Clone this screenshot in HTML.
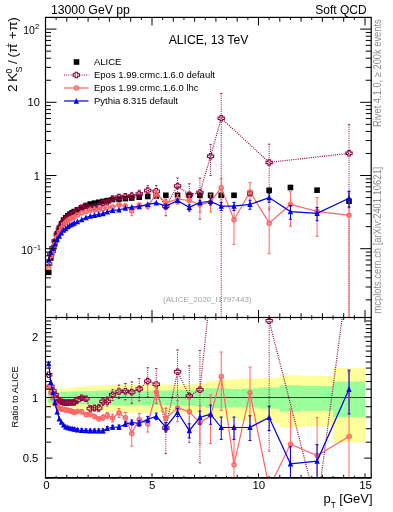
<!DOCTYPE html><html><head><meta charset="utf-8"><style>html,body{margin:0;padding:0;background:#fff;}svg{display:block;will-change:transform;}text{font-family:"Liberation Sans",sans-serif;}</style></head><body>
<svg width="393" height="512" viewBox="0 0 393 512">
<defs><clipPath id="cm"><rect x="45.5" y="17.4" width="325.7" height="300.1"/></clipPath>
<clipPath id="cr"><rect x="45.5" y="317.5" width="325.7" height="160.3"/></clipPath></defs>
<g clip-path="url(#cr)">
<polygon fill="#ffff99" points="47.63,389.17 49.76,389.17 49.76,389.07 51.89,389.07 51.89,388.98 54.02,388.98 54.02,388.89 56.15,388.89 56.15,388.79 58.28,388.79 58.28,388.70 60.41,388.70 60.41,388.61 62.54,388.61 62.54,388.52 64.67,388.52 64.67,388.42 66.80,388.42 66.80,388.26 68.93,388.26 68.93,388.02 71.06,388.02 71.06,387.79 73.19,387.79 73.19,387.55 75.32,387.55 75.32,387.20 79.58,387.20 79.58,386.74 83.84,386.74 83.84,386.28 88.10,386.28 88.10,385.96 92.36,385.96 92.36,385.78 96.62,385.78 96.62,385.61 100.88,385.61 100.88,385.43 105.14,385.43 105.14,385.26 109.40,385.26 109.40,385.04 115.79,385.04 115.79,384.78 122.18,384.78 122.18,384.52 128.57,384.52 128.57,384.52 134.96,384.52 134.96,384.52 143.48,384.52 143.48,384.52 152.00,384.52 152.00,384.52 160.52,384.52 160.52,384.52 171.17,384.52 171.17,384.52 183.95,384.52 183.95,384.52 194.60,384.52 194.60,383.40 205.25,383.40 205.25,381.20 215.90,381.20 215.90,379.89 226.55,379.89 226.55,379.36 241.46,379.36 241.46,378.69 258.50,378.69 258.50,377.99 279.80,377.99 279.80,375.24 301.10,375.24 301.10,375.92 333.05,375.92 333.05,368.08 365.00,368.08 365.00,442.16 333.05,442.16 333.05,426.22 301.10,426.22 301.10,427.44 279.80,427.44 279.80,422.65 258.50,422.65 258.50,421.49 241.46,421.49 241.46,420.42 226.55,420.42 226.55,419.57 215.90,419.57 215.90,417.56 205.25,417.56 205.25,414.32 194.60,414.32 194.60,412.74 183.95,412.74 183.95,412.74 171.17,412.74 171.17,412.74 160.52,412.74 160.52,412.74 152.00,412.74 152.00,412.74 143.48,412.74 143.48,412.74 134.96,412.74 134.96,412.74 128.57,412.74 128.57,412.74 122.18,412.74 122.18,412.39 115.79,412.39 115.79,412.03 109.40,412.03 109.40,411.74 105.14,411.74 105.14,411.50 100.88,411.50 100.88,411.27 96.62,411.27 96.62,411.03 92.36,411.03 92.36,410.80 88.10,410.80 88.10,410.38 83.84,410.38 83.84,409.78 79.58,409.78 79.58,409.17 75.32,409.17 75.32,408.73 73.19,408.73 73.19,408.43 71.06,408.43 71.06,408.13 68.93,408.13 68.93,407.84 66.80,407.84 66.80,407.63 64.67,407.63 64.67,407.51 62.54,407.51 62.54,407.40 60.41,407.40 60.41,407.28 58.28,407.28 58.28,407.17 56.15,407.17 56.15,407.05 54.02,407.05 54.02,406.94 51.89,406.94 51.89,406.83 49.76,406.83 49.76,406.71 47.63,406.71"/>
<polygon fill="#99ff99" points="47.63,392.41 49.76,392.41 49.76,392.31 51.89,392.31 51.89,392.21 54.02,392.21 54.02,392.12 56.15,392.12 56.15,392.02 58.28,392.02 58.28,391.92 60.41,391.92 60.41,391.83 62.54,391.83 62.54,391.73 64.67,391.73 64.67,391.63 66.80,391.63 66.80,391.56 68.93,391.56 68.93,391.50 71.06,391.50 71.06,391.44 73.19,391.44 73.19,391.38 75.32,391.38 75.32,391.29 79.58,391.29 79.58,391.17 83.84,391.17 83.84,391.05 88.10,391.05 88.10,390.93 92.36,390.93 92.36,390.82 96.62,390.82 96.62,390.70 100.88,390.70 100.88,390.58 105.14,390.58 105.14,390.46 109.40,390.46 109.40,390.32 115.79,390.32 115.79,390.14 122.18,390.14 122.18,389.97 128.57,389.97 128.57,390.16 134.96,390.16 134.96,390.38 143.48,390.38 143.48,390.64 152.00,390.64 152.00,390.69 160.52,390.69 160.52,390.51 171.17,390.51 171.17,390.29 183.95,390.29 183.95,390.07 194.60,390.07 194.60,389.37 205.25,389.37 205.25,388.18 215.90,388.18 215.90,387.98 226.55,387.98 226.55,388.93 241.46,388.93 241.46,388.53 258.50,388.53 258.50,387.59 279.80,387.59 279.80,385.28 301.10,385.28 301.10,386.05 333.05,386.05 333.05,381.56 365.00,381.56 365.00,417.01 333.05,417.01 333.05,410.69 301.10,410.69 301.10,411.71 279.80,411.71 279.80,408.68 258.50,408.68 258.50,407.49 241.46,407.49 241.46,407.00 226.55,407.00 226.55,408.18 215.90,408.18 215.90,407.93 205.25,407.93 205.25,406.47 194.60,406.47 194.60,405.62 183.95,405.62 183.95,405.36 171.17,405.36 171.17,405.10 160.52,405.10 160.52,404.88 152.00,404.88 152.00,404.94 143.48,404.94 143.48,405.25 134.96,405.25 134.96,405.51 128.57,405.51 128.57,405.74 122.18,405.74 122.18,405.54 115.79,405.54 115.79,405.33 109.40,405.33 109.40,405.15 105.14,405.15 105.14,405.01 100.88,405.01 100.88,404.88 96.62,404.88 96.62,404.74 92.36,404.74 92.36,404.60 88.10,404.60 88.10,404.46 83.84,404.46 83.84,404.32 79.58,404.32 79.58,404.19 75.32,404.19 75.32,404.08 73.19,404.08 73.19,404.02 71.06,404.02 71.06,403.95 68.93,403.95 68.93,403.88 66.80,403.88 66.80,403.79 64.67,403.79 64.67,403.68 62.54,403.68 62.54,403.57 60.41,403.57 60.41,403.46 58.28,403.46 58.28,403.35 56.15,403.35 56.15,403.24 54.02,403.24 54.02,403.13 51.89,403.13 51.89,403.02 49.76,403.02 49.76,402.91 47.63,402.91"/>
<line x1="45.5" y1="397.5" x2="371.2" y2="397.5" stroke="#000" stroke-width="1" stroke-opacity="0.7"/>
</g>
<g clip-path="url(#cr)">
<polyline fill="none" stroke="#900040" stroke-width="1.2" stroke-dasharray="1 1.2" points="48.70,374.70 50.83,386.40 52.95,391.00 55.09,394.84 57.22,398.68 59.34,400.95 61.48,401.65 63.61,402.35 65.73,402.67 67.87,402.60 70.00,402.53 72.12,402.47 74.25,402.40 77.45,400.00 81.71,397.80 85.97,398.80 90.23,408.50 94.49,408.00 98.75,408.00 103.01,401.40 107.27,401.40 112.59,394.80 118.98,391.50 125.38,391.30 131.76,392.00 139.22,388.90 147.74,381.10 156.26,384.20 165.85,428.00 177.56,371.70 189.28,395.90 199.93,389.70 210.58,290.25 221.22,185.75 269.15,320.77 317.07,508.00 349.03,265.78"/>
<polygon fill="#fff" fill-opacity="0" stroke="#900040" stroke-width="1.05" points="47.49,371.95 49.90,371.95 49.90,373.50 51.84,373.50 51.84,375.90 49.90,375.90 49.90,377.45 47.49,377.45 47.49,375.90 45.55,375.90 45.55,373.50 47.49,373.50"/>
<line x1="50.83" y1="384.87" x2="50.83" y2="387.95" stroke="#900040" stroke-width="1" stroke-dasharray="1 1.2"/>
<line x1="49.62" y1="384.87" x2="52.03" y2="384.87" stroke="#900040" stroke-width="0.8"/>
<line x1="49.62" y1="387.95" x2="52.03" y2="387.95" stroke="#900040" stroke-width="0.8"/>
<polygon fill="#fff" fill-opacity="0" stroke="#900040" stroke-width="1.05" points="49.62,383.65 52.03,383.65 52.03,385.20 53.98,385.20 53.98,387.60 52.03,387.60 52.03,389.15 49.62,389.15 49.62,387.60 47.68,387.60 47.68,385.20 49.62,385.20"/>
<line x1="52.95" y1="389.39" x2="52.95" y2="392.64" stroke="#900040" stroke-width="1" stroke-dasharray="1 1.2"/>
<line x1="51.75" y1="389.39" x2="54.16" y2="389.39" stroke="#900040" stroke-width="0.8"/>
<line x1="51.75" y1="392.64" x2="54.16" y2="392.64" stroke="#900040" stroke-width="0.8"/>
<polygon fill="#fff" fill-opacity="0" stroke="#900040" stroke-width="1.05" points="51.75,388.25 54.16,388.25 54.16,389.80 56.10,389.80 56.10,392.20 54.16,392.20 54.16,393.75 51.75,393.75 51.75,392.20 49.80,392.20 49.80,389.80 51.75,389.80"/>
<line x1="55.09" y1="393.16" x2="55.09" y2="396.55" stroke="#900040" stroke-width="1" stroke-dasharray="1 1.2"/>
<line x1="53.88" y1="393.16" x2="56.29" y2="393.16" stroke="#900040" stroke-width="0.8"/>
<line x1="53.88" y1="396.55" x2="56.29" y2="396.55" stroke="#900040" stroke-width="0.8"/>
<polygon fill="#fff" fill-opacity="0" stroke="#900040" stroke-width="1.05" points="53.88,392.09 56.29,392.09 56.29,393.64 58.23,393.64 58.23,396.04 56.29,396.04 56.29,397.59 53.88,397.59 53.88,396.04 51.94,396.04 51.94,393.64 53.88,393.64"/>
<line x1="57.22" y1="396.93" x2="57.22" y2="400.47" stroke="#900040" stroke-width="1" stroke-dasharray="1 1.2"/>
<line x1="56.02" y1="396.93" x2="58.42" y2="396.93" stroke="#900040" stroke-width="0.8"/>
<line x1="56.02" y1="400.47" x2="58.42" y2="400.47" stroke="#900040" stroke-width="0.8"/>
<polygon fill="#fff" fill-opacity="0" stroke="#900040" stroke-width="1.05" points="56.02,395.93 58.42,395.93 58.42,397.48 60.37,397.48 60.37,399.88 58.42,399.88 58.42,401.43 56.02,401.43 56.02,399.88 54.07,399.88 54.07,397.48 56.02,397.48"/>
<line x1="59.34" y1="399.15" x2="59.34" y2="402.79" stroke="#900040" stroke-width="1" stroke-dasharray="1 1.2"/>
<line x1="58.14" y1="399.15" x2="60.55" y2="399.15" stroke="#900040" stroke-width="0.8"/>
<line x1="58.14" y1="402.79" x2="60.55" y2="402.79" stroke="#900040" stroke-width="0.8"/>
<polygon fill="#fff" fill-opacity="0" stroke="#900040" stroke-width="1.05" points="58.14,398.20 60.55,398.20 60.55,399.75 62.49,399.75 62.49,402.15 60.55,402.15 60.55,403.70 58.14,403.70 58.14,402.15 56.20,402.15 56.20,399.75 58.14,399.75"/>
<line x1="61.48" y1="399.84" x2="61.48" y2="403.50" stroke="#900040" stroke-width="1" stroke-dasharray="1 1.2"/>
<line x1="60.27" y1="399.84" x2="62.68" y2="399.84" stroke="#900040" stroke-width="0.8"/>
<line x1="60.27" y1="403.50" x2="62.68" y2="403.50" stroke="#900040" stroke-width="0.8"/>
<polygon fill="#fff" fill-opacity="0" stroke="#900040" stroke-width="1.05" points="60.27,398.90 62.68,398.90 62.68,400.45 64.62,400.45 64.62,402.85 62.68,402.85 62.68,404.40 60.27,404.40 60.27,402.85 58.33,402.85 58.33,400.45 60.27,400.45"/>
<line x1="63.61" y1="400.52" x2="63.61" y2="404.22" stroke="#900040" stroke-width="1" stroke-dasharray="1 1.2"/>
<line x1="62.41" y1="400.52" x2="64.81" y2="400.52" stroke="#900040" stroke-width="0.8"/>
<line x1="62.41" y1="404.22" x2="64.81" y2="404.22" stroke="#900040" stroke-width="0.8"/>
<polygon fill="#fff" fill-opacity="0" stroke="#900040" stroke-width="1.05" points="62.41,399.60 64.81,399.60 64.81,401.15 66.76,401.15 66.76,403.55 64.81,403.55 64.81,405.10 62.41,405.10 62.41,403.55 60.46,403.55 60.46,401.15 62.41,401.15"/>
<line x1="65.73" y1="400.83" x2="65.73" y2="404.54" stroke="#900040" stroke-width="1" stroke-dasharray="1 1.2"/>
<line x1="64.53" y1="400.83" x2="66.94" y2="400.83" stroke="#900040" stroke-width="0.8"/>
<line x1="64.53" y1="404.54" x2="66.94" y2="404.54" stroke="#900040" stroke-width="0.8"/>
<polygon fill="#fff" fill-opacity="0" stroke="#900040" stroke-width="1.05" points="64.53,399.92 66.94,399.92 66.94,401.47 68.89,401.47 68.89,403.87 66.94,403.87 66.94,405.42 64.53,405.42 64.53,403.87 62.59,403.87 62.59,401.47 64.53,401.47"/>
<line x1="67.87" y1="400.77" x2="67.87" y2="404.47" stroke="#900040" stroke-width="1" stroke-dasharray="1 1.2"/>
<line x1="66.67" y1="400.77" x2="69.07" y2="400.77" stroke="#900040" stroke-width="0.8"/>
<line x1="66.67" y1="404.47" x2="69.07" y2="404.47" stroke="#900040" stroke-width="0.8"/>
<polygon fill="#fff" fill-opacity="0" stroke="#900040" stroke-width="1.05" points="66.67,399.85 69.07,399.85 69.07,401.40 71.02,401.40 71.02,403.80 69.07,403.80 69.07,405.35 66.67,405.35 66.67,403.80 64.72,403.80 64.72,401.40 66.67,401.40"/>
<line x1="70.00" y1="400.70" x2="70.00" y2="404.41" stroke="#900040" stroke-width="1" stroke-dasharray="1 1.2"/>
<line x1="68.80" y1="400.70" x2="71.20" y2="400.70" stroke="#900040" stroke-width="0.8"/>
<line x1="68.80" y1="404.41" x2="71.20" y2="404.41" stroke="#900040" stroke-width="0.8"/>
<polygon fill="#fff" fill-opacity="0" stroke="#900040" stroke-width="1.05" points="68.80,399.78 71.20,399.78 71.20,401.33 73.15,401.33 73.15,403.73 71.20,403.73 71.20,405.28 68.80,405.28 68.80,403.73 66.84,403.73 66.84,401.33 68.80,401.33"/>
<line x1="72.12" y1="400.64" x2="72.12" y2="404.34" stroke="#900040" stroke-width="1" stroke-dasharray="1 1.2"/>
<line x1="70.92" y1="400.64" x2="73.33" y2="400.64" stroke="#900040" stroke-width="0.8"/>
<line x1="70.92" y1="404.34" x2="73.33" y2="404.34" stroke="#900040" stroke-width="0.8"/>
<polygon fill="#fff" fill-opacity="0" stroke="#900040" stroke-width="1.05" points="70.92,399.72 73.33,399.72 73.33,401.27 75.28,401.27 75.28,403.67 73.33,403.67 73.33,405.22 70.92,405.22 70.92,403.67 68.97,403.67 68.97,401.27 70.92,401.27"/>
<line x1="74.25" y1="400.57" x2="74.25" y2="404.27" stroke="#900040" stroke-width="1" stroke-dasharray="1 1.2"/>
<line x1="73.05" y1="400.57" x2="75.45" y2="400.57" stroke="#900040" stroke-width="0.8"/>
<line x1="73.05" y1="404.27" x2="75.45" y2="404.27" stroke="#900040" stroke-width="0.8"/>
<polygon fill="#fff" fill-opacity="0" stroke="#900040" stroke-width="1.05" points="73.05,399.65 75.45,399.65 75.45,401.20 77.41,401.20 77.41,403.60 75.45,403.60 75.45,405.15 73.05,405.15 73.05,403.60 71.10,403.60 71.10,401.20 73.05,401.20"/>
<line x1="77.45" y1="398.22" x2="77.45" y2="401.82" stroke="#900040" stroke-width="1" stroke-dasharray="1 1.2"/>
<line x1="76.25" y1="398.22" x2="78.65" y2="398.22" stroke="#900040" stroke-width="0.8"/>
<line x1="76.25" y1="401.82" x2="78.65" y2="401.82" stroke="#900040" stroke-width="0.8"/>
<polygon fill="#fff" fill-opacity="0" stroke="#900040" stroke-width="1.05" points="76.25,397.25 78.65,397.25 78.65,398.80 80.60,398.80 80.60,401.20 78.65,401.20 78.65,402.75 76.25,402.75 76.25,401.20 74.30,401.20 74.30,398.80 76.25,398.80"/>
<line x1="81.71" y1="396.06" x2="81.71" y2="399.57" stroke="#900040" stroke-width="1" stroke-dasharray="1 1.2"/>
<line x1="80.51" y1="396.06" x2="82.91" y2="396.06" stroke="#900040" stroke-width="0.8"/>
<line x1="80.51" y1="399.57" x2="82.91" y2="399.57" stroke="#900040" stroke-width="0.8"/>
<polygon fill="#fff" fill-opacity="0" stroke="#900040" stroke-width="1.05" points="80.51,395.05 82.91,395.05 82.91,396.60 84.86,396.60 84.86,399.00 82.91,399.00 82.91,400.55 80.51,400.55 80.51,399.00 78.56,399.00 78.56,396.60 80.51,396.60"/>
<line x1="85.97" y1="397.04" x2="85.97" y2="400.59" stroke="#900040" stroke-width="1" stroke-dasharray="1 1.2"/>
<line x1="84.77" y1="397.04" x2="87.17" y2="397.04" stroke="#900040" stroke-width="0.8"/>
<line x1="84.77" y1="400.59" x2="87.17" y2="400.59" stroke="#900040" stroke-width="0.8"/>
<polygon fill="#fff" fill-opacity="0" stroke="#900040" stroke-width="1.05" points="84.77,396.05 87.17,396.05 87.17,397.60 89.12,397.60 89.12,400.00 87.17,400.00 87.17,401.55 84.77,401.55 84.77,400.00 82.82,400.00 82.82,397.60 84.77,397.60"/>
<line x1="90.23" y1="406.22" x2="90.23" y2="410.84" stroke="#900040" stroke-width="1" stroke-dasharray="1 1.2"/>
<line x1="89.03" y1="406.22" x2="91.43" y2="406.22" stroke="#900040" stroke-width="0.8"/>
<line x1="89.03" y1="410.84" x2="91.43" y2="410.84" stroke="#900040" stroke-width="0.8"/>
<polygon fill="#fff" fill-opacity="0" stroke="#900040" stroke-width="1.05" points="89.03,405.75 91.43,405.75 91.43,407.30 93.38,407.30 93.38,409.70 91.43,409.70 91.43,411.25 89.03,411.25 89.03,409.70 87.08,409.70 87.08,407.30 89.03,407.30"/>
<line x1="94.49" y1="405.09" x2="94.49" y2="411.01" stroke="#900040" stroke-width="1" stroke-dasharray="1 1.2"/>
<line x1="93.29" y1="405.09" x2="95.69" y2="405.09" stroke="#900040" stroke-width="0.8"/>
<line x1="93.29" y1="411.01" x2="95.69" y2="411.01" stroke="#900040" stroke-width="0.8"/>
<polygon fill="#fff" fill-opacity="0" stroke="#900040" stroke-width="1.05" points="93.29,405.25 95.69,405.25 95.69,406.80 97.64,406.80 97.64,409.20 95.69,409.20 95.69,410.75 93.29,410.75 93.29,409.20 91.34,409.20 91.34,406.80 93.29,406.80"/>
<line x1="98.75" y1="404.46" x2="98.75" y2="411.69" stroke="#900040" stroke-width="1" stroke-dasharray="1 1.2"/>
<line x1="97.55" y1="404.46" x2="99.95" y2="404.46" stroke="#900040" stroke-width="0.8"/>
<line x1="97.55" y1="411.69" x2="99.95" y2="411.69" stroke="#900040" stroke-width="0.8"/>
<polygon fill="#fff" fill-opacity="0" stroke="#900040" stroke-width="1.05" points="97.55,405.25 99.95,405.25 99.95,406.80 101.90,406.80 101.90,409.20 99.95,409.20 99.95,410.75 97.55,410.75 97.55,409.20 95.60,409.20 95.60,406.80 97.55,406.80"/>
<line x1="103.01" y1="397.53" x2="103.01" y2="405.45" stroke="#900040" stroke-width="1" stroke-dasharray="1 1.2"/>
<line x1="101.81" y1="397.53" x2="104.21" y2="397.53" stroke="#900040" stroke-width="0.8"/>
<line x1="101.81" y1="405.45" x2="104.21" y2="405.45" stroke="#900040" stroke-width="0.8"/>
<polygon fill="#fff" fill-opacity="0" stroke="#900040" stroke-width="1.05" points="101.81,398.65 104.21,398.65 104.21,400.20 106.16,400.20 106.16,402.60 104.21,402.60 104.21,404.15 101.81,404.15 101.81,402.60 99.86,402.60 99.86,400.20 101.81,400.20"/>
<line x1="107.27" y1="396.94" x2="107.27" y2="406.09" stroke="#900040" stroke-width="1" stroke-dasharray="1 1.2"/>
<line x1="106.07" y1="396.94" x2="108.47" y2="396.94" stroke="#900040" stroke-width="0.8"/>
<line x1="106.07" y1="406.09" x2="108.47" y2="406.09" stroke="#900040" stroke-width="0.8"/>
<polygon fill="#fff" fill-opacity="0" stroke="#900040" stroke-width="1.05" points="106.07,398.65 108.47,398.65 108.47,400.20 110.42,400.20 110.42,402.60 108.47,402.60 108.47,404.15 106.07,404.15 106.07,402.60 104.12,402.60 104.12,400.20 106.07,400.20"/>
<line x1="112.59" y1="389.48" x2="112.59" y2="400.46" stroke="#900040" stroke-width="1" stroke-dasharray="1 1.2"/>
<line x1="111.39" y1="389.48" x2="113.80" y2="389.48" stroke="#900040" stroke-width="0.8"/>
<line x1="111.39" y1="400.46" x2="113.80" y2="400.46" stroke="#900040" stroke-width="0.8"/>
<polygon fill="#fff" fill-opacity="0" stroke="#900040" stroke-width="1.05" points="111.39,392.05 113.80,392.05 113.80,393.60 115.75,393.60 115.75,396.00 113.80,396.00 113.80,397.55 111.39,397.55 111.39,396.00 109.44,396.00 109.44,393.60 111.39,393.60"/>
<line x1="118.98" y1="385.02" x2="118.98" y2="398.49" stroke="#900040" stroke-width="1" stroke-dasharray="1 1.2"/>
<line x1="117.78" y1="385.02" x2="120.19" y2="385.02" stroke="#900040" stroke-width="0.8"/>
<line x1="117.78" y1="398.49" x2="120.19" y2="398.49" stroke="#900040" stroke-width="0.8"/>
<polygon fill="#fff" fill-opacity="0" stroke="#900040" stroke-width="1.05" points="117.78,388.75 120.19,388.75 120.19,390.30 122.14,390.30 122.14,392.70 120.19,392.70 120.19,394.25 117.78,394.25 117.78,392.70 115.83,392.70 115.83,390.30 117.78,390.30"/>
<line x1="125.38" y1="383.51" x2="125.38" y2="399.85" stroke="#900040" stroke-width="1" stroke-dasharray="1 1.2"/>
<line x1="124.17" y1="383.51" x2="126.58" y2="383.51" stroke="#900040" stroke-width="0.8"/>
<line x1="124.17" y1="399.85" x2="126.58" y2="399.85" stroke="#900040" stroke-width="0.8"/>
<polygon fill="#fff" fill-opacity="0" stroke="#900040" stroke-width="1.05" points="124.17,388.55 126.58,388.55 126.58,390.10 128.53,390.10 128.53,392.50 126.58,392.50 126.58,394.05 124.17,394.05 124.17,392.50 122.22,392.50 122.22,390.10 124.17,390.10"/>
<line x1="131.76" y1="381.93" x2="131.76" y2="403.38" stroke="#900040" stroke-width="1" stroke-dasharray="1 1.2"/>
<line x1="130.56" y1="381.93" x2="132.96" y2="381.93" stroke="#900040" stroke-width="0.8"/>
<line x1="130.56" y1="403.38" x2="132.96" y2="403.38" stroke="#900040" stroke-width="0.8"/>
<polygon fill="#fff" fill-opacity="0" stroke="#900040" stroke-width="1.05" points="130.56,389.25 132.96,389.25 132.96,390.80 134.91,390.80 134.91,393.20 132.96,393.20 132.96,394.75 130.56,394.75 130.56,393.20 128.61,393.20 128.61,390.80 130.56,390.80"/>
<line x1="139.22" y1="378.46" x2="139.22" y2="400.76" stroke="#900040" stroke-width="1" stroke-dasharray="1 1.2"/>
<line x1="138.02" y1="378.46" x2="140.42" y2="378.46" stroke="#900040" stroke-width="0.8"/>
<line x1="138.02" y1="400.76" x2="140.42" y2="400.76" stroke="#900040" stroke-width="0.8"/>
<polygon fill="#fff" fill-opacity="0" stroke="#900040" stroke-width="1.05" points="138.02,386.15 140.42,386.15 140.42,387.70 142.37,387.70 142.37,390.10 140.42,390.10 140.42,391.65 138.02,391.65 138.02,390.10 136.07,390.10 136.07,387.70 138.02,387.70"/>
<line x1="147.74" y1="367.69" x2="147.74" y2="396.95" stroke="#900040" stroke-width="1" stroke-dasharray="1 1.2"/>
<line x1="146.54" y1="367.69" x2="148.94" y2="367.69" stroke="#900040" stroke-width="0.8"/>
<line x1="146.54" y1="396.95" x2="148.94" y2="396.95" stroke="#900040" stroke-width="0.8"/>
<polygon fill="#fff" fill-opacity="0" stroke="#900040" stroke-width="1.05" points="146.54,378.35 148.94,378.35 148.94,379.90 150.89,379.90 150.89,382.30 148.94,382.30 148.94,383.85 146.54,383.85 146.54,382.30 144.59,382.30 144.59,379.90 146.54,379.90"/>
<line x1="156.26" y1="368.44" x2="156.26" y2="403.44" stroke="#900040" stroke-width="1" stroke-dasharray="1 1.2"/>
<line x1="155.06" y1="368.44" x2="157.46" y2="368.44" stroke="#900040" stroke-width="0.8"/>
<line x1="155.06" y1="403.44" x2="157.46" y2="403.44" stroke="#900040" stroke-width="0.8"/>
<polygon fill="#fff" fill-opacity="0" stroke="#900040" stroke-width="1.05" points="155.06,381.45 157.46,381.45 157.46,383.00 159.41,383.00 159.41,385.40 157.46,385.40 157.46,386.95 155.06,386.95 155.06,385.40 153.11,385.40 153.11,383.00 155.06,383.00"/>
<line x1="165.85" y1="408.13" x2="165.85" y2="453.75" stroke="#900040" stroke-width="1" stroke-dasharray="1 1.2"/>
<line x1="164.65" y1="408.13" x2="167.05" y2="408.13" stroke="#900040" stroke-width="0.8"/>
<line x1="164.65" y1="453.75" x2="167.05" y2="453.75" stroke="#900040" stroke-width="0.8"/>
<polygon fill="#fff" fill-opacity="0" stroke="#900040" stroke-width="1.05" points="164.65,425.25 167.05,425.25 167.05,426.80 169.00,426.80 169.00,429.20 167.05,429.20 167.05,430.75 164.65,430.75 164.65,429.20 162.70,429.20 162.70,426.80 164.65,426.80"/>
<line x1="177.56" y1="349.92" x2="177.56" y2="400.77" stroke="#900040" stroke-width="1" stroke-dasharray="1 1.2"/>
<line x1="176.36" y1="349.92" x2="178.76" y2="349.92" stroke="#900040" stroke-width="0.8"/>
<line x1="176.36" y1="400.77" x2="178.76" y2="400.77" stroke="#900040" stroke-width="0.8"/>
<polygon fill="#fff" fill-opacity="0" stroke="#900040" stroke-width="1.05" points="176.36,368.95 178.76,368.95 178.76,370.50 180.71,370.50 180.71,372.90 178.76,372.90 178.76,374.45 176.36,374.45 176.36,372.90 174.41,372.90 174.41,370.50 176.36,370.50"/>
<line x1="189.28" y1="365.71" x2="189.28" y2="442.38" stroke="#900040" stroke-width="1" stroke-dasharray="1 1.2"/>
<line x1="188.08" y1="365.71" x2="190.47" y2="365.71" stroke="#900040" stroke-width="0.8"/>
<line x1="188.08" y1="442.38" x2="190.47" y2="442.38" stroke="#900040" stroke-width="0.8"/>
<polygon fill="#fff" fill-opacity="0" stroke="#900040" stroke-width="1.05" points="188.08,393.15 190.47,393.15 190.47,394.70 192.43,394.70 192.43,397.10 190.47,397.10 190.47,398.65 188.08,398.65 188.08,397.10 186.12,397.10 186.12,394.70 188.08,394.70"/>
<line x1="199.93" y1="350.43" x2="199.93" y2="462.89" stroke="#900040" stroke-width="1" stroke-dasharray="1 1.2"/>
<line x1="198.73" y1="350.43" x2="201.12" y2="350.43" stroke="#900040" stroke-width="0.8"/>
<line x1="198.73" y1="462.89" x2="201.12" y2="462.89" stroke="#900040" stroke-width="0.8"/>
<polygon fill="#fff" fill-opacity="0" stroke="#900040" stroke-width="1.05" points="198.73,386.95 201.12,386.95 201.12,388.50 203.08,388.50 203.08,390.90 201.12,390.90 201.12,392.45 198.73,392.45 198.73,390.90 196.78,390.90 196.78,388.50 198.73,388.50"/>
<polygon fill="#fff" fill-opacity="0" stroke="#900040" stroke-width="1.05" points="209.38,287.50 211.78,287.50 211.78,289.05 213.73,289.05 213.73,291.45 211.78,291.45 211.78,293.00 209.38,293.00 209.38,291.45 207.43,291.45 207.43,289.05 209.38,289.05"/>
<polygon fill="#fff" fill-opacity="0" stroke="#900040" stroke-width="1.05" points="220.03,183.00 222.42,183.00 222.42,184.55 224.38,184.55 224.38,186.95 222.42,186.95 222.42,188.50 220.03,188.50 220.03,186.95 218.07,186.95 218.07,184.55 220.03,184.55"/>
<line x1="269.15" y1="270.62" x2="269.15" y2="451.13" stroke="#900040" stroke-width="1" stroke-dasharray="1 1.2"/>
<line x1="267.95" y1="270.62" x2="270.35" y2="270.62" stroke="#900040" stroke-width="0.8"/>
<line x1="267.95" y1="451.13" x2="270.35" y2="451.13" stroke="#900040" stroke-width="0.8"/>
<polygon fill="#fff" fill-opacity="0" stroke="#900040" stroke-width="1.05" points="267.95,318.02 270.35,318.02 270.35,319.57 272.30,319.57 272.30,321.97 270.35,321.97 270.35,323.52 267.95,323.52 267.95,321.97 266.00,321.97 266.00,319.57 267.95,319.57"/>
<polygon fill="#fff" fill-opacity="0" stroke="#900040" stroke-width="1.05" points="315.88,505.25 318.27,505.25 318.27,506.80 320.22,506.80 320.22,509.20 318.27,509.20 318.27,510.75 315.88,510.75 315.88,509.20 313.93,509.20 313.93,506.80 315.88,506.80"/>
<polygon fill="#fff" fill-opacity="0" stroke="#900040" stroke-width="1.05" points="347.83,263.03 350.23,263.03 350.23,264.58 352.18,264.58 352.18,266.98 350.23,266.98 350.23,268.53 347.83,268.53 347.83,266.98 345.88,266.98 345.88,264.58 347.83,264.58"/>
</g>
<g clip-path="url(#cr)">
<polyline fill="none" stroke="#ff6666" stroke-width="1.2"  points="48.70,386.40 50.83,392.17 52.95,397.93 55.09,403.70 57.22,405.92 59.34,408.13 61.48,409.10 63.61,409.52 65.73,409.95 67.87,410.37 70.00,410.80 72.12,411.55 74.25,412.30 77.45,411.50 81.71,411.80 85.97,414.60 90.23,414.50 94.49,416.50 98.75,418.70 103.01,417.50 107.27,415.60 112.59,418.00 118.98,412.90 125.38,417.80 131.76,433.40 139.22,419.40 147.74,424.00 156.26,392.00 165.85,418.00 177.56,407.90 189.28,411.80 199.93,422.80 210.58,415.80 221.22,376.40 234.00,464.70 249.98,392.80 269.15,487.79 290.45,444.20 317.07,455.60 349.03,436.40"/>
<line x1="48.70" y1="384.87" x2="48.70" y2="387.95" stroke="#ff6666" stroke-width="1" />
<line x1="47.20" y1="384.87" x2="50.20" y2="384.87" stroke="#ff6666" stroke-width="1"/>
<line x1="47.20" y1="387.95" x2="50.20" y2="387.95" stroke="#ff6666" stroke-width="1"/>
<circle cx="48.70" cy="386.40" r="2.0" fill="none" stroke="#ff6666" stroke-width="1.5"/>
<line x1="50.83" y1="390.54" x2="50.83" y2="393.83" stroke="#ff6666" stroke-width="1" />
<line x1="49.33" y1="390.54" x2="52.33" y2="390.54" stroke="#ff6666" stroke-width="1"/>
<line x1="49.33" y1="393.83" x2="52.33" y2="393.83" stroke="#ff6666" stroke-width="1"/>
<circle cx="50.83" cy="392.17" r="2.0" fill="none" stroke="#ff6666" stroke-width="1.5"/>
<line x1="52.95" y1="396.19" x2="52.95" y2="399.71" stroke="#ff6666" stroke-width="1" />
<line x1="51.45" y1="396.19" x2="54.45" y2="396.19" stroke="#ff6666" stroke-width="1"/>
<line x1="51.45" y1="399.71" x2="54.45" y2="399.71" stroke="#ff6666" stroke-width="1"/>
<circle cx="52.95" cy="397.93" r="2.0" fill="none" stroke="#ff6666" stroke-width="1.5"/>
<line x1="55.09" y1="401.84" x2="55.09" y2="405.60" stroke="#ff6666" stroke-width="1" />
<line x1="53.59" y1="401.84" x2="56.59" y2="401.84" stroke="#ff6666" stroke-width="1"/>
<line x1="53.59" y1="405.60" x2="56.59" y2="405.60" stroke="#ff6666" stroke-width="1"/>
<circle cx="55.09" cy="403.70" r="2.0" fill="none" stroke="#ff6666" stroke-width="1.5"/>
<line x1="57.22" y1="404.01" x2="57.22" y2="407.86" stroke="#ff6666" stroke-width="1" />
<line x1="55.72" y1="404.01" x2="58.72" y2="404.01" stroke="#ff6666" stroke-width="1"/>
<line x1="55.72" y1="407.86" x2="58.72" y2="407.86" stroke="#ff6666" stroke-width="1"/>
<circle cx="57.22" cy="405.92" r="2.0" fill="none" stroke="#ff6666" stroke-width="1.5"/>
<line x1="59.34" y1="406.18" x2="59.34" y2="410.13" stroke="#ff6666" stroke-width="1" />
<line x1="57.84" y1="406.18" x2="60.84" y2="406.18" stroke="#ff6666" stroke-width="1"/>
<line x1="57.84" y1="410.13" x2="60.84" y2="410.13" stroke="#ff6666" stroke-width="1"/>
<circle cx="59.34" cy="408.13" r="2.0" fill="none" stroke="#ff6666" stroke-width="1.5"/>
<line x1="61.48" y1="407.12" x2="61.48" y2="411.12" stroke="#ff6666" stroke-width="1" />
<line x1="59.98" y1="407.12" x2="62.98" y2="407.12" stroke="#ff6666" stroke-width="1"/>
<line x1="59.98" y1="411.12" x2="62.98" y2="411.12" stroke="#ff6666" stroke-width="1"/>
<circle cx="61.48" cy="409.10" r="2.0" fill="none" stroke="#ff6666" stroke-width="1.5"/>
<line x1="63.61" y1="407.54" x2="63.61" y2="411.55" stroke="#ff6666" stroke-width="1" />
<line x1="62.11" y1="407.54" x2="65.11" y2="407.54" stroke="#ff6666" stroke-width="1"/>
<line x1="62.11" y1="411.55" x2="65.11" y2="411.55" stroke="#ff6666" stroke-width="1"/>
<circle cx="63.61" cy="409.52" r="2.0" fill="none" stroke="#ff6666" stroke-width="1.5"/>
<line x1="65.73" y1="407.96" x2="65.73" y2="411.99" stroke="#ff6666" stroke-width="1" />
<line x1="64.23" y1="407.96" x2="67.23" y2="407.96" stroke="#ff6666" stroke-width="1"/>
<line x1="64.23" y1="411.99" x2="67.23" y2="411.99" stroke="#ff6666" stroke-width="1"/>
<circle cx="65.73" cy="409.95" r="2.0" fill="none" stroke="#ff6666" stroke-width="1.5"/>
<line x1="67.87" y1="408.37" x2="67.87" y2="412.42" stroke="#ff6666" stroke-width="1" />
<line x1="66.37" y1="408.37" x2="69.37" y2="408.37" stroke="#ff6666" stroke-width="1"/>
<line x1="66.37" y1="412.42" x2="69.37" y2="412.42" stroke="#ff6666" stroke-width="1"/>
<circle cx="67.87" cy="410.37" r="2.0" fill="none" stroke="#ff6666" stroke-width="1.5"/>
<line x1="70.00" y1="408.79" x2="70.00" y2="412.86" stroke="#ff6666" stroke-width="1" />
<line x1="68.50" y1="408.79" x2="71.50" y2="408.79" stroke="#ff6666" stroke-width="1"/>
<line x1="68.50" y1="412.86" x2="71.50" y2="412.86" stroke="#ff6666" stroke-width="1"/>
<circle cx="70.00" cy="410.80" r="2.0" fill="none" stroke="#ff6666" stroke-width="1.5"/>
<line x1="72.12" y1="409.52" x2="72.12" y2="413.63" stroke="#ff6666" stroke-width="1" />
<line x1="70.62" y1="409.52" x2="73.62" y2="409.52" stroke="#ff6666" stroke-width="1"/>
<line x1="70.62" y1="413.63" x2="73.62" y2="413.63" stroke="#ff6666" stroke-width="1"/>
<circle cx="72.12" cy="411.55" r="2.0" fill="none" stroke="#ff6666" stroke-width="1.5"/>
<line x1="74.25" y1="410.25" x2="74.25" y2="414.40" stroke="#ff6666" stroke-width="1" />
<line x1="72.75" y1="410.25" x2="75.75" y2="410.25" stroke="#ff6666" stroke-width="1"/>
<line x1="72.75" y1="414.40" x2="75.75" y2="414.40" stroke="#ff6666" stroke-width="1"/>
<circle cx="74.25" cy="412.30" r="2.0" fill="none" stroke="#ff6666" stroke-width="1.5"/>
<line x1="77.45" y1="409.47" x2="77.45" y2="413.58" stroke="#ff6666" stroke-width="1" />
<line x1="75.95" y1="409.47" x2="78.95" y2="409.47" stroke="#ff6666" stroke-width="1"/>
<line x1="75.95" y1="413.58" x2="78.95" y2="413.58" stroke="#ff6666" stroke-width="1"/>
<circle cx="77.45" cy="411.50" r="2.0" fill="none" stroke="#ff6666" stroke-width="1.5"/>
<line x1="81.71" y1="409.76" x2="81.71" y2="413.88" stroke="#ff6666" stroke-width="1" />
<line x1="80.21" y1="409.76" x2="83.21" y2="409.76" stroke="#ff6666" stroke-width="1"/>
<line x1="80.21" y1="413.88" x2="83.21" y2="413.88" stroke="#ff6666" stroke-width="1"/>
<circle cx="81.71" cy="411.80" r="2.0" fill="none" stroke="#ff6666" stroke-width="1.5"/>
<line x1="85.97" y1="412.50" x2="85.97" y2="416.75" stroke="#ff6666" stroke-width="1" />
<line x1="84.47" y1="412.50" x2="87.47" y2="412.50" stroke="#ff6666" stroke-width="1"/>
<line x1="84.47" y1="416.75" x2="87.47" y2="416.75" stroke="#ff6666" stroke-width="1"/>
<circle cx="85.97" cy="414.60" r="2.0" fill="none" stroke="#ff6666" stroke-width="1.5"/>
<line x1="90.23" y1="412.40" x2="90.23" y2="416.65" stroke="#ff6666" stroke-width="1" />
<line x1="88.73" y1="412.40" x2="91.73" y2="412.40" stroke="#ff6666" stroke-width="1"/>
<line x1="88.73" y1="416.65" x2="91.73" y2="416.65" stroke="#ff6666" stroke-width="1"/>
<circle cx="90.23" cy="414.50" r="2.0" fill="none" stroke="#ff6666" stroke-width="1.5"/>
<line x1="94.49" y1="414.35" x2="94.49" y2="418.70" stroke="#ff6666" stroke-width="1" />
<line x1="92.99" y1="414.35" x2="95.99" y2="414.35" stroke="#ff6666" stroke-width="1"/>
<line x1="92.99" y1="418.70" x2="95.99" y2="418.70" stroke="#ff6666" stroke-width="1"/>
<circle cx="94.49" cy="416.50" r="2.0" fill="none" stroke="#ff6666" stroke-width="1.5"/>
<line x1="98.75" y1="416.50" x2="98.75" y2="420.96" stroke="#ff6666" stroke-width="1" />
<line x1="97.25" y1="416.50" x2="100.25" y2="416.50" stroke="#ff6666" stroke-width="1"/>
<line x1="97.25" y1="420.96" x2="100.25" y2="420.96" stroke="#ff6666" stroke-width="1"/>
<circle cx="98.75" cy="418.70" r="2.0" fill="none" stroke="#ff6666" stroke-width="1.5"/>
<line x1="103.01" y1="414.82" x2="103.01" y2="420.27" stroke="#ff6666" stroke-width="1" />
<line x1="101.51" y1="414.82" x2="104.51" y2="414.82" stroke="#ff6666" stroke-width="1"/>
<line x1="101.51" y1="420.27" x2="104.51" y2="420.27" stroke="#ff6666" stroke-width="1"/>
<circle cx="103.01" cy="417.50" r="2.0" fill="none" stroke="#ff6666" stroke-width="1.5"/>
<line x1="107.27" y1="412.47" x2="107.27" y2="418.84" stroke="#ff6666" stroke-width="1" />
<line x1="105.77" y1="412.47" x2="108.77" y2="412.47" stroke="#ff6666" stroke-width="1"/>
<line x1="105.77" y1="418.84" x2="108.77" y2="418.84" stroke="#ff6666" stroke-width="1"/>
<circle cx="107.27" cy="415.60" r="2.0" fill="none" stroke="#ff6666" stroke-width="1.5"/>
<line x1="112.59" y1="414.15" x2="112.59" y2="422.03" stroke="#ff6666" stroke-width="1" />
<line x1="111.09" y1="414.15" x2="114.09" y2="414.15" stroke="#ff6666" stroke-width="1"/>
<line x1="111.09" y1="422.03" x2="114.09" y2="422.03" stroke="#ff6666" stroke-width="1"/>
<circle cx="112.59" cy="418.00" r="2.0" fill="none" stroke="#ff6666" stroke-width="1.5"/>
<line x1="118.98" y1="408.55" x2="118.98" y2="417.48" stroke="#ff6666" stroke-width="1" />
<line x1="117.48" y1="408.55" x2="120.48" y2="408.55" stroke="#ff6666" stroke-width="1"/>
<line x1="117.48" y1="417.48" x2="120.48" y2="417.48" stroke="#ff6666" stroke-width="1"/>
<circle cx="118.98" cy="412.90" r="2.0" fill="none" stroke="#ff6666" stroke-width="1.5"/>
<line x1="125.38" y1="412.45" x2="125.38" y2="423.50" stroke="#ff6666" stroke-width="1" />
<line x1="123.88" y1="412.45" x2="126.88" y2="412.45" stroke="#ff6666" stroke-width="1"/>
<line x1="123.88" y1="423.50" x2="126.88" y2="423.50" stroke="#ff6666" stroke-width="1"/>
<circle cx="125.38" cy="417.80" r="2.0" fill="none" stroke="#ff6666" stroke-width="1.5"/>
<line x1="131.76" y1="422.28" x2="131.76" y2="446.15" stroke="#ff6666" stroke-width="1" />
<line x1="130.26" y1="422.28" x2="133.26" y2="422.28" stroke="#ff6666" stroke-width="1"/>
<line x1="130.26" y1="446.15" x2="133.26" y2="446.15" stroke="#ff6666" stroke-width="1"/>
<circle cx="131.76" cy="433.40" r="2.0" fill="none" stroke="#ff6666" stroke-width="1.5"/>
<line x1="139.22" y1="413.43" x2="139.22" y2="425.81" stroke="#ff6666" stroke-width="1" />
<line x1="137.72" y1="413.43" x2="140.72" y2="413.43" stroke="#ff6666" stroke-width="1"/>
<line x1="137.72" y1="425.81" x2="140.72" y2="425.81" stroke="#ff6666" stroke-width="1"/>
<circle cx="139.22" cy="419.40" r="2.0" fill="none" stroke="#ff6666" stroke-width="1.5"/>
<line x1="147.74" y1="416.63" x2="147.74" y2="432.05" stroke="#ff6666" stroke-width="1" />
<line x1="146.24" y1="416.63" x2="149.24" y2="416.63" stroke="#ff6666" stroke-width="1"/>
<line x1="146.24" y1="432.05" x2="149.24" y2="432.05" stroke="#ff6666" stroke-width="1"/>
<circle cx="147.74" cy="424.00" r="2.0" fill="none" stroke="#ff6666" stroke-width="1.5"/>
<line x1="156.26" y1="381.93" x2="156.26" y2="403.38" stroke="#ff6666" stroke-width="1" />
<line x1="154.76" y1="381.93" x2="157.76" y2="381.93" stroke="#ff6666" stroke-width="1"/>
<line x1="154.76" y1="403.38" x2="157.76" y2="403.38" stroke="#ff6666" stroke-width="1"/>
<circle cx="156.26" cy="392.00" r="2.0" fill="none" stroke="#ff6666" stroke-width="1.5"/>
<line x1="165.85" y1="408.58" x2="165.85" y2="428.56" stroke="#ff6666" stroke-width="1" />
<line x1="164.35" y1="408.58" x2="167.35" y2="408.58" stroke="#ff6666" stroke-width="1"/>
<line x1="164.35" y1="428.56" x2="167.35" y2="428.56" stroke="#ff6666" stroke-width="1"/>
<circle cx="165.85" cy="418.00" r="2.0" fill="none" stroke="#ff6666" stroke-width="1.5"/>
<line x1="177.56" y1="395.95" x2="177.56" y2="421.74" stroke="#ff6666" stroke-width="1" />
<line x1="176.06" y1="395.95" x2="179.06" y2="395.95" stroke="#ff6666" stroke-width="1"/>
<line x1="176.06" y1="421.74" x2="179.06" y2="421.74" stroke="#ff6666" stroke-width="1"/>
<circle cx="177.56" cy="407.90" r="2.0" fill="none" stroke="#ff6666" stroke-width="1.5"/>
<line x1="189.28" y1="398.46" x2="189.28" y2="427.55" stroke="#ff6666" stroke-width="1" />
<line x1="187.78" y1="398.46" x2="190.78" y2="398.46" stroke="#ff6666" stroke-width="1"/>
<line x1="187.78" y1="427.55" x2="190.78" y2="427.55" stroke="#ff6666" stroke-width="1"/>
<circle cx="189.28" cy="411.80" r="2.0" fill="none" stroke="#ff6666" stroke-width="1.5"/>
<line x1="199.93" y1="405.87" x2="199.93" y2="443.82" stroke="#ff6666" stroke-width="1" />
<line x1="198.43" y1="405.87" x2="201.43" y2="405.87" stroke="#ff6666" stroke-width="1"/>
<line x1="198.43" y1="443.82" x2="201.43" y2="443.82" stroke="#ff6666" stroke-width="1"/>
<circle cx="199.93" cy="422.80" r="2.0" fill="none" stroke="#ff6666" stroke-width="1.5"/>
<line x1="210.58" y1="394.82" x2="210.58" y2="443.46" stroke="#ff6666" stroke-width="1" />
<line x1="209.08" y1="394.82" x2="212.08" y2="394.82" stroke="#ff6666" stroke-width="1"/>
<line x1="209.08" y1="443.46" x2="212.08" y2="443.46" stroke="#ff6666" stroke-width="1"/>
<circle cx="210.58" cy="415.80" r="2.0" fill="none" stroke="#ff6666" stroke-width="1.5"/>
<line x1="221.22" y1="351.99" x2="221.22" y2="410.38" stroke="#ff6666" stroke-width="1" />
<line x1="219.72" y1="351.99" x2="222.72" y2="351.99" stroke="#ff6666" stroke-width="1"/>
<line x1="219.72" y1="410.38" x2="222.72" y2="410.38" stroke="#ff6666" stroke-width="1"/>
<circle cx="221.22" cy="376.40" r="2.0" fill="none" stroke="#ff6666" stroke-width="1.5"/>
<line x1="234.00" y1="427.00" x2="234.00" y2="532.44" stroke="#ff6666" stroke-width="1" />
<line x1="232.50" y1="427.00" x2="235.50" y2="427.00" stroke="#ff6666" stroke-width="1"/>
<line x1="232.50" y1="532.44" x2="235.50" y2="532.44" stroke="#ff6666" stroke-width="1"/>
<circle cx="234.00" cy="464.70" r="2.0" fill="none" stroke="#ff6666" stroke-width="1.5"/>
<line x1="249.98" y1="367.14" x2="249.98" y2="429.28" stroke="#ff6666" stroke-width="1" />
<line x1="248.48" y1="367.14" x2="251.48" y2="367.14" stroke="#ff6666" stroke-width="1"/>
<line x1="248.48" y1="429.28" x2="251.48" y2="429.28" stroke="#ff6666" stroke-width="1"/>
<circle cx="249.98" cy="392.80" r="2.0" fill="none" stroke="#ff6666" stroke-width="1.5"/>
<circle cx="269.15" cy="487.79" r="2.0" fill="none" stroke="#ff6666" stroke-width="1.5"/>
<line x1="290.45" y1="409.06" x2="290.45" y2="503.89" stroke="#ff6666" stroke-width="1" />
<line x1="288.95" y1="409.06" x2="291.95" y2="409.06" stroke="#ff6666" stroke-width="1"/>
<line x1="288.95" y1="503.89" x2="291.95" y2="503.89" stroke="#ff6666" stroke-width="1"/>
<circle cx="290.45" cy="444.20" r="2.0" fill="none" stroke="#ff6666" stroke-width="1.5"/>
<line x1="317.07" y1="417.61" x2="317.07" y2="524.29" stroke="#ff6666" stroke-width="1" />
<line x1="315.57" y1="417.61" x2="318.57" y2="417.61" stroke="#ff6666" stroke-width="1"/>
<line x1="315.57" y1="524.29" x2="318.57" y2="524.29" stroke="#ff6666" stroke-width="1"/>
<circle cx="317.07" cy="455.60" r="2.0" fill="none" stroke="#ff6666" stroke-width="1.5"/>
<line x1="349.03" y1="371.86" x2="349.03" y2="2000.00" stroke="#ff6666" stroke-width="1" />
<line x1="347.53" y1="371.86" x2="350.53" y2="371.86" stroke="#ff6666" stroke-width="1"/>
<circle cx="349.03" cy="436.40" r="2.0" fill="none" stroke="#ff6666" stroke-width="1.5"/>
</g>
<g clip-path="url(#cr)">
<polyline fill="none" stroke="#0000e6" stroke-width="1.2"  points="48.70,363.60 50.83,382.30 52.95,392.50 55.09,402.70 57.22,412.00 59.34,419.00 61.48,422.20 63.61,425.00 65.73,427.00 67.87,427.55 70.00,428.09 72.12,428.64 74.25,429.18 77.45,430.00 81.71,430.32 85.97,430.64 90.23,430.80 94.49,430.80 98.75,430.80 103.01,430.80 107.27,428.47 112.59,427.27 118.98,427.20 125.38,424.10 131.76,422.50 139.22,423.30 147.74,419.40 156.26,416.30 165.85,427.20 177.56,412.30 189.28,430.60 199.93,417.30 210.58,414.20 221.22,427.50 234.00,427.50 249.98,427.30 269.15,417.50 290.45,463.80 317.07,461.10 349.03,389.30"/>
<polygon fill="#0000e6" points="48.70,360.40 51.40,366.20 45.99,366.20"/>
<polygon fill="#0000e6" points="50.83,379.10 53.53,384.90 48.12,384.90"/>
<polygon fill="#0000e6" points="52.95,389.30 55.66,395.10 50.25,395.10"/>
<polygon fill="#0000e6" points="55.09,399.50 57.79,405.30 52.38,405.30"/>
<polygon fill="#0000e6" points="57.22,408.80 59.92,414.60 54.52,414.60"/>
<polygon fill="#0000e6" points="59.34,415.80 62.05,421.60 56.64,421.60"/>
<polygon fill="#0000e6" points="61.48,419.00 64.17,424.80 58.77,424.80"/>
<polygon fill="#0000e6" points="63.61,421.80 66.31,427.60 60.91,427.60"/>
<polygon fill="#0000e6" points="65.73,423.80 68.44,429.60 63.03,429.60"/>
<polygon fill="#0000e6" points="67.87,424.35 70.57,430.15 65.17,430.15"/>
<polygon fill="#0000e6" points="70.00,424.89 72.70,430.69 67.30,430.69"/>
<polygon fill="#0000e6" points="72.12,425.44 74.83,431.24 69.42,431.24"/>
<line x1="74.25" y1="427.67" x2="74.25" y2="430.72" stroke="#0000e6" stroke-width="1" />
<line x1="72.75" y1="427.67" x2="75.75" y2="427.67" stroke="#0000e6" stroke-width="1"/>
<line x1="72.75" y1="430.72" x2="75.75" y2="430.72" stroke="#0000e6" stroke-width="1"/>
<polygon fill="#0000e6" points="74.25,425.98 76.95,431.78 71.55,431.78"/>
<line x1="77.45" y1="428.45" x2="77.45" y2="431.58" stroke="#0000e6" stroke-width="1" />
<line x1="75.95" y1="428.45" x2="78.95" y2="428.45" stroke="#0000e6" stroke-width="1"/>
<line x1="75.95" y1="431.58" x2="78.95" y2="431.58" stroke="#0000e6" stroke-width="1"/>
<polygon fill="#0000e6" points="77.45,426.80 80.15,432.60 74.75,432.60"/>
<line x1="81.71" y1="428.72" x2="81.71" y2="431.95" stroke="#0000e6" stroke-width="1" />
<line x1="80.21" y1="428.72" x2="83.21" y2="428.72" stroke="#0000e6" stroke-width="1"/>
<line x1="80.21" y1="431.95" x2="83.21" y2="431.95" stroke="#0000e6" stroke-width="1"/>
<polygon fill="#0000e6" points="81.71,427.12 84.41,432.92 79.01,432.92"/>
<line x1="85.97" y1="428.99" x2="85.97" y2="432.33" stroke="#0000e6" stroke-width="1" />
<line x1="84.47" y1="428.99" x2="87.47" y2="428.99" stroke="#0000e6" stroke-width="1"/>
<line x1="84.47" y1="432.33" x2="87.47" y2="432.33" stroke="#0000e6" stroke-width="1"/>
<polygon fill="#0000e6" points="85.97,427.44 88.67,433.24 83.27,433.24"/>
<line x1="90.23" y1="429.10" x2="90.23" y2="432.53" stroke="#0000e6" stroke-width="1" />
<line x1="88.73" y1="429.10" x2="91.73" y2="429.10" stroke="#0000e6" stroke-width="1"/>
<line x1="88.73" y1="432.53" x2="91.73" y2="432.53" stroke="#0000e6" stroke-width="1"/>
<polygon fill="#0000e6" points="90.23,427.60 92.93,433.40 87.53,433.40"/>
<line x1="94.49" y1="429.06" x2="94.49" y2="432.58" stroke="#0000e6" stroke-width="1" />
<line x1="92.99" y1="429.06" x2="95.99" y2="429.06" stroke="#0000e6" stroke-width="1"/>
<line x1="92.99" y1="432.58" x2="95.99" y2="432.58" stroke="#0000e6" stroke-width="1"/>
<polygon fill="#0000e6" points="94.49,427.60 97.19,433.40 91.79,433.40"/>
<line x1="98.75" y1="429.01" x2="98.75" y2="432.63" stroke="#0000e6" stroke-width="1" />
<line x1="97.25" y1="429.01" x2="100.25" y2="429.01" stroke="#0000e6" stroke-width="1"/>
<line x1="97.25" y1="432.63" x2="100.25" y2="432.63" stroke="#0000e6" stroke-width="1"/>
<polygon fill="#0000e6" points="98.75,427.60 101.45,433.40 96.05,433.40"/>
<line x1="103.01" y1="428.97" x2="103.01" y2="432.67" stroke="#0000e6" stroke-width="1" />
<line x1="101.51" y1="428.97" x2="104.51" y2="428.97" stroke="#0000e6" stroke-width="1"/>
<line x1="101.51" y1="432.67" x2="104.51" y2="432.67" stroke="#0000e6" stroke-width="1"/>
<polygon fill="#0000e6" points="103.01,427.60 105.71,433.40 100.31,433.40"/>
<line x1="107.27" y1="426.64" x2="107.27" y2="430.33" stroke="#0000e6" stroke-width="1" />
<line x1="105.77" y1="426.64" x2="108.77" y2="426.64" stroke="#0000e6" stroke-width="1"/>
<line x1="105.77" y1="430.33" x2="108.77" y2="430.33" stroke="#0000e6" stroke-width="1"/>
<polygon fill="#0000e6" points="107.27,425.27 109.97,431.07 104.57,431.07"/>
<line x1="112.59" y1="425.32" x2="112.59" y2="429.26" stroke="#0000e6" stroke-width="1" />
<line x1="111.09" y1="425.32" x2="114.09" y2="425.32" stroke="#0000e6" stroke-width="1"/>
<line x1="111.09" y1="429.26" x2="114.09" y2="429.26" stroke="#0000e6" stroke-width="1"/>
<polygon fill="#0000e6" points="112.59,424.07 115.30,429.87 109.89,429.87"/>
<line x1="118.98" y1="425.01" x2="118.98" y2="429.45" stroke="#0000e6" stroke-width="1" />
<line x1="117.48" y1="425.01" x2="120.48" y2="425.01" stroke="#0000e6" stroke-width="1"/>
<line x1="117.48" y1="429.45" x2="120.48" y2="429.45" stroke="#0000e6" stroke-width="1"/>
<polygon fill="#0000e6" points="118.98,424.00 121.69,429.80 116.28,429.80"/>
<line x1="125.38" y1="421.75" x2="125.38" y2="426.52" stroke="#0000e6" stroke-width="1" />
<line x1="123.88" y1="421.75" x2="126.88" y2="421.75" stroke="#0000e6" stroke-width="1"/>
<line x1="123.88" y1="426.52" x2="126.88" y2="426.52" stroke="#0000e6" stroke-width="1"/>
<polygon fill="#0000e6" points="125.38,420.90 128.07,426.70 122.67,426.70"/>
<line x1="131.76" y1="419.96" x2="131.76" y2="425.12" stroke="#0000e6" stroke-width="1" />
<line x1="130.26" y1="419.96" x2="133.26" y2="419.96" stroke="#0000e6" stroke-width="1"/>
<line x1="130.26" y1="425.12" x2="133.26" y2="425.12" stroke="#0000e6" stroke-width="1"/>
<polygon fill="#0000e6" points="131.76,419.30 134.46,425.10 129.06,425.10"/>
<line x1="139.22" y1="420.46" x2="139.22" y2="426.23" stroke="#0000e6" stroke-width="1" />
<line x1="137.72" y1="420.46" x2="140.72" y2="420.46" stroke="#0000e6" stroke-width="1"/>
<line x1="137.72" y1="426.23" x2="140.72" y2="426.23" stroke="#0000e6" stroke-width="1"/>
<polygon fill="#0000e6" points="139.22,420.10 141.92,425.90 136.52,425.90"/>
<line x1="147.74" y1="416.39" x2="147.74" y2="422.52" stroke="#0000e6" stroke-width="1" />
<line x1="146.24" y1="416.39" x2="149.24" y2="416.39" stroke="#0000e6" stroke-width="1"/>
<line x1="146.24" y1="422.52" x2="149.24" y2="422.52" stroke="#0000e6" stroke-width="1"/>
<polygon fill="#0000e6" points="147.74,416.20 150.44,422.00 145.04,422.00"/>
<line x1="156.26" y1="413.11" x2="156.26" y2="419.61" stroke="#0000e6" stroke-width="1" />
<line x1="154.76" y1="413.11" x2="157.76" y2="413.11" stroke="#0000e6" stroke-width="1"/>
<line x1="154.76" y1="419.61" x2="157.76" y2="419.61" stroke="#0000e6" stroke-width="1"/>
<polygon fill="#0000e6" points="156.26,413.10 158.96,418.90 153.56,418.90"/>
<line x1="165.85" y1="422.65" x2="165.85" y2="432.00" stroke="#0000e6" stroke-width="1" />
<line x1="164.35" y1="422.65" x2="167.35" y2="422.65" stroke="#0000e6" stroke-width="1"/>
<line x1="164.35" y1="432.00" x2="167.35" y2="432.00" stroke="#0000e6" stroke-width="1"/>
<polygon fill="#0000e6" points="165.85,424.00 168.55,429.80 163.15,429.80"/>
<line x1="177.56" y1="408.25" x2="177.56" y2="416.54" stroke="#0000e6" stroke-width="1" />
<line x1="176.06" y1="408.25" x2="179.06" y2="408.25" stroke="#0000e6" stroke-width="1"/>
<line x1="176.06" y1="416.54" x2="179.06" y2="416.54" stroke="#0000e6" stroke-width="1"/>
<polygon fill="#0000e6" points="177.56,409.10 180.26,414.90 174.86,414.90"/>
<line x1="189.28" y1="423.85" x2="189.28" y2="437.92" stroke="#0000e6" stroke-width="1" />
<line x1="187.78" y1="423.85" x2="190.78" y2="423.85" stroke="#0000e6" stroke-width="1"/>
<line x1="187.78" y1="437.92" x2="190.78" y2="437.92" stroke="#0000e6" stroke-width="1"/>
<polygon fill="#0000e6" points="189.28,427.40 191.97,433.20 186.58,433.20"/>
<line x1="199.93" y1="410.96" x2="199.93" y2="424.14" stroke="#0000e6" stroke-width="1" />
<line x1="198.43" y1="410.96" x2="201.43" y2="410.96" stroke="#0000e6" stroke-width="1"/>
<line x1="198.43" y1="424.14" x2="201.43" y2="424.14" stroke="#0000e6" stroke-width="1"/>
<polygon fill="#0000e6" points="199.93,414.10 202.62,419.90 197.23,419.90"/>
<line x1="210.58" y1="405.16" x2="210.58" y2="424.28" stroke="#0000e6" stroke-width="1" />
<line x1="209.08" y1="405.16" x2="212.08" y2="405.16" stroke="#0000e6" stroke-width="1"/>
<line x1="209.08" y1="424.28" x2="212.08" y2="424.28" stroke="#0000e6" stroke-width="1"/>
<polygon fill="#0000e6" points="210.58,411.00 213.28,416.80 207.88,416.80"/>
<line x1="221.22" y1="417.06" x2="221.22" y2="439.36" stroke="#0000e6" stroke-width="1" />
<line x1="219.72" y1="417.06" x2="222.72" y2="417.06" stroke="#0000e6" stroke-width="1"/>
<line x1="219.72" y1="439.36" x2="222.72" y2="439.36" stroke="#0000e6" stroke-width="1"/>
<polygon fill="#0000e6" points="221.22,424.30 223.92,430.10 218.53,430.10"/>
<line x1="234.00" y1="417.06" x2="234.00" y2="439.36" stroke="#0000e6" stroke-width="1" />
<line x1="232.50" y1="417.06" x2="235.50" y2="417.06" stroke="#0000e6" stroke-width="1"/>
<line x1="232.50" y1="439.36" x2="235.50" y2="439.36" stroke="#0000e6" stroke-width="1"/>
<polygon fill="#0000e6" points="234.00,424.30 236.70,430.10 231.31,430.10"/>
<line x1="249.98" y1="415.80" x2="249.98" y2="440.55" stroke="#0000e6" stroke-width="1" />
<line x1="248.48" y1="415.80" x2="251.48" y2="415.80" stroke="#0000e6" stroke-width="1"/>
<line x1="248.48" y1="440.55" x2="251.48" y2="440.55" stroke="#0000e6" stroke-width="1"/>
<polygon fill="#0000e6" points="249.98,424.10 252.68,429.90 247.28,429.90"/>
<line x1="269.15" y1="406.18" x2="269.15" y2="430.51" stroke="#0000e6" stroke-width="1" />
<line x1="267.65" y1="406.18" x2="270.65" y2="406.18" stroke="#0000e6" stroke-width="1"/>
<line x1="267.65" y1="430.51" x2="270.65" y2="430.51" stroke="#0000e6" stroke-width="1"/>
<polygon fill="#0000e6" points="269.15,414.30 271.85,420.10 266.45,420.10"/>
<line x1="290.45" y1="446.88" x2="290.45" y2="484.79" stroke="#0000e6" stroke-width="1" />
<line x1="288.95" y1="446.88" x2="291.95" y2="446.88" stroke="#0000e6" stroke-width="1"/>
<line x1="288.95" y1="484.79" x2="291.95" y2="484.79" stroke="#0000e6" stroke-width="1"/>
<polygon fill="#0000e6" points="290.45,460.60 293.15,466.40 287.75,466.40"/>
<line x1="317.07" y1="444.65" x2="317.07" y2="481.38" stroke="#0000e6" stroke-width="1" />
<line x1="315.57" y1="444.65" x2="318.57" y2="444.65" stroke="#0000e6" stroke-width="1"/>
<line x1="315.57" y1="481.38" x2="318.57" y2="481.38" stroke="#0000e6" stroke-width="1"/>
<polygon fill="#0000e6" points="317.07,457.90 319.77,463.70 314.38,463.70"/>
<line x1="349.03" y1="370.08" x2="349.03" y2="413.97" stroke="#0000e6" stroke-width="1" />
<line x1="347.53" y1="370.08" x2="350.53" y2="370.08" stroke="#0000e6" stroke-width="1"/>
<line x1="347.53" y1="413.97" x2="350.53" y2="413.97" stroke="#0000e6" stroke-width="1"/>
<polygon fill="#0000e6" points="349.03,386.10 351.73,391.90 346.33,391.90"/>
</g>
<g clip-path="url(#cm)">
<rect x="45.90" y="269.50" width="5.6" height="5.6" fill="#000"/>
<rect x="48.03" y="255.20" width="5.6" height="5.6" fill="#000"/>
<rect x="50.16" y="247.34" width="5.6" height="5.6" fill="#000"/>
<rect x="52.29" y="239.16" width="5.6" height="5.6" fill="#000"/>
<rect x="54.42" y="231.04" width="5.6" height="5.6" fill="#000"/>
<rect x="56.55" y="225.47" width="5.6" height="5.6" fill="#000"/>
<rect x="58.68" y="221.12" width="5.6" height="5.6" fill="#000"/>
<rect x="60.81" y="217.28" width="5.6" height="5.6" fill="#000"/>
<rect x="62.94" y="215.06" width="5.6" height="5.6" fill="#000"/>
<rect x="65.07" y="213.02" width="5.6" height="5.6" fill="#000"/>
<rect x="67.20" y="211.35" width="5.6" height="5.6" fill="#000"/>
<rect x="69.33" y="210.05" width="5.6" height="5.6" fill="#000"/>
<rect x="71.45" y="208.75" width="5.6" height="5.6" fill="#000"/>
<rect x="74.65" y="207.06" width="5.6" height="5.6" fill="#000"/>
<rect x="78.91" y="204.98" width="5.6" height="5.6" fill="#000"/>
<rect x="83.17" y="202.79" width="5.6" height="5.6" fill="#000"/>
<rect x="87.43" y="201.26" width="5.6" height="5.6" fill="#000"/>
<rect x="91.69" y="200.38" width="5.6" height="5.6" fill="#000"/>
<rect x="95.95" y="199.50" width="5.6" height="5.6" fill="#000"/>
<rect x="100.21" y="198.65" width="5.6" height="5.6" fill="#000"/>
<rect x="104.47" y="197.80" width="5.6" height="5.6" fill="#000"/>
<rect x="109.80" y="196.80" width="5.6" height="5.6" fill="#000"/>
<rect x="116.19" y="196.30" width="5.6" height="5.6" fill="#000"/>
<rect x="122.58" y="195.80" width="5.6" height="5.6" fill="#000"/>
<rect x="128.96" y="195.20" width="5.6" height="5.6" fill="#000"/>
<rect x="136.42" y="194.40" width="5.6" height="5.6" fill="#000"/>
<rect x="144.94" y="193.70" width="5.6" height="5.6" fill="#000"/>
<rect x="153.46" y="193.30" width="5.6" height="5.6" fill="#000"/>
<rect x="163.05" y="192.50" width="5.6" height="5.6" fill="#000"/>
<rect x="174.76" y="192.50" width="5.6" height="5.6" fill="#000"/>
<rect x="186.47" y="192.50" width="5.6" height="5.6" fill="#000"/>
<rect x="197.12" y="192.50" width="5.6" height="5.6" fill="#000"/>
<rect x="207.78" y="192.50" width="5.6" height="5.6" fill="#000"/>
<rect x="218.42" y="192.50" width="5.6" height="5.6" fill="#000"/>
<rect x="231.20" y="192.50" width="5.6" height="5.6" fill="#000"/>
<rect x="247.18" y="190.80" width="5.6" height="5.6" fill="#000"/>
<rect x="266.35" y="187.50" width="5.6" height="5.6" fill="#000"/>
<rect x="287.65" y="184.70" width="5.6" height="5.6" fill="#000"/>
<rect x="314.27" y="187.40" width="5.6" height="5.6" fill="#000"/>
<rect x="346.23" y="198.40" width="5.6" height="5.6" fill="#000"/>
</g>
<g clip-path="url(#cm)">
<polyline fill="none" stroke="#900040" stroke-width="1.2" stroke-dasharray="1 1.2" points="48.70,264.01 50.83,253.96 52.95,247.78 55.09,240.99 57.22,234.27 59.34,229.53 61.48,225.43 63.61,221.85 65.73,219.74 67.87,217.68 70.00,215.98 72.12,214.66 74.25,213.33 77.45,210.77 81.71,207.89 85.97,206.07 90.23,208.06 94.49,207.00 98.75,206.12 103.01,202.87 107.27,202.02 112.59,198.62 118.98,196.92 125.38,196.35 131.76,196.00 139.22,194.07 147.74,190.54 156.26,191.26 165.85,206.39 177.56,185.92 189.28,194.72 199.93,192.46 210.58,156.30 221.22,118.30 269.15,162.40 349.03,153.30"/>
<polygon fill="#fff" fill-opacity="0" stroke="#900040" stroke-width="1.05" points="47.49,261.26 49.90,261.26 49.90,262.81 51.84,262.81 51.84,265.21 49.90,265.21 49.90,266.76 47.49,266.76 47.49,265.21 45.55,265.21 45.55,262.81 47.49,262.81"/>
<polygon fill="#fff" fill-opacity="0" stroke="#900040" stroke-width="1.05" points="49.62,251.21 52.03,251.21 52.03,252.76 53.98,252.76 53.98,255.16 52.03,255.16 52.03,256.71 49.62,256.71 49.62,255.16 47.68,255.16 47.68,252.76 49.62,252.76"/>
<polygon fill="#fff" fill-opacity="0" stroke="#900040" stroke-width="1.05" points="51.75,245.03 54.16,245.03 54.16,246.58 56.10,246.58 56.10,248.98 54.16,248.98 54.16,250.53 51.75,250.53 51.75,248.98 49.80,248.98 49.80,246.58 51.75,246.58"/>
<polygon fill="#fff" fill-opacity="0" stroke="#900040" stroke-width="1.05" points="53.88,238.24 56.29,238.24 56.29,239.79 58.23,239.79 58.23,242.19 56.29,242.19 56.29,243.74 53.88,243.74 53.88,242.19 51.94,242.19 51.94,239.79 53.88,239.79"/>
<polygon fill="#fff" fill-opacity="0" stroke="#900040" stroke-width="1.05" points="56.02,231.52 58.42,231.52 58.42,233.07 60.37,233.07 60.37,235.47 58.42,235.47 58.42,237.02 56.02,237.02 56.02,235.47 54.07,235.47 54.07,233.07 56.02,233.07"/>
<polygon fill="#fff" fill-opacity="0" stroke="#900040" stroke-width="1.05" points="58.14,226.78 60.55,226.78 60.55,228.33 62.49,228.33 62.49,230.73 60.55,230.73 60.55,232.28 58.14,232.28 58.14,230.73 56.20,230.73 56.20,228.33 58.14,228.33"/>
<polygon fill="#fff" fill-opacity="0" stroke="#900040" stroke-width="1.05" points="60.27,222.68 62.68,222.68 62.68,224.23 64.62,224.23 64.62,226.63 62.68,226.63 62.68,228.18 60.27,228.18 60.27,226.63 58.33,226.63 58.33,224.23 60.27,224.23"/>
<polygon fill="#fff" fill-opacity="0" stroke="#900040" stroke-width="1.05" points="62.41,219.10 64.81,219.10 64.81,220.65 66.76,220.65 66.76,223.05 64.81,223.05 64.81,224.60 62.41,224.60 62.41,223.05 60.46,223.05 60.46,220.65 62.41,220.65"/>
<polygon fill="#fff" fill-opacity="0" stroke="#900040" stroke-width="1.05" points="64.53,216.99 66.94,216.99 66.94,218.54 68.89,218.54 68.89,220.94 66.94,220.94 66.94,222.49 64.53,222.49 64.53,220.94 62.59,220.94 62.59,218.54 64.53,218.54"/>
<polygon fill="#fff" fill-opacity="0" stroke="#900040" stroke-width="1.05" points="66.67,214.93 69.07,214.93 69.07,216.48 71.02,216.48 71.02,218.88 69.07,218.88 69.07,220.43 66.67,220.43 66.67,218.88 64.72,218.88 64.72,216.48 66.67,216.48"/>
<polygon fill="#fff" fill-opacity="0" stroke="#900040" stroke-width="1.05" points="68.80,213.23 71.20,213.23 71.20,214.78 73.15,214.78 73.15,217.18 71.20,217.18 71.20,218.73 68.80,218.73 68.80,217.18 66.84,217.18 66.84,214.78 68.80,214.78"/>
<polygon fill="#fff" fill-opacity="0" stroke="#900040" stroke-width="1.05" points="70.92,211.91 73.33,211.91 73.33,213.46 75.28,213.46 75.28,215.86 73.33,215.86 73.33,217.41 70.92,217.41 70.92,215.86 68.97,215.86 68.97,213.46 70.92,213.46"/>
<polygon fill="#fff" fill-opacity="0" stroke="#900040" stroke-width="1.05" points="73.05,210.58 75.45,210.58 75.45,212.13 77.41,212.13 77.41,214.53 75.45,214.53 75.45,216.08 73.05,216.08 73.05,214.53 71.10,214.53 71.10,212.13 73.05,212.13"/>
<polygon fill="#fff" fill-opacity="0" stroke="#900040" stroke-width="1.05" points="76.25,208.02 78.65,208.02 78.65,209.57 80.60,209.57 80.60,211.97 78.65,211.97 78.65,213.52 76.25,213.52 76.25,211.97 74.30,211.97 74.30,209.57 76.25,209.57"/>
<polygon fill="#fff" fill-opacity="0" stroke="#900040" stroke-width="1.05" points="80.51,205.14 82.91,205.14 82.91,206.69 84.86,206.69 84.86,209.09 82.91,209.09 82.91,210.64 80.51,210.64 80.51,209.09 78.56,209.09 78.56,206.69 80.51,206.69"/>
<polygon fill="#fff" fill-opacity="0" stroke="#900040" stroke-width="1.05" points="84.77,203.32 87.17,203.32 87.17,204.87 89.12,204.87 89.12,207.27 87.17,207.27 87.17,208.82 84.77,208.82 84.77,207.27 82.82,207.27 82.82,204.87 84.77,204.87"/>
<polygon fill="#fff" fill-opacity="0" stroke="#900040" stroke-width="1.05" points="89.03,205.31 91.43,205.31 91.43,206.86 93.38,206.86 93.38,209.26 91.43,209.26 91.43,210.81 89.03,210.81 89.03,209.26 87.08,209.26 87.08,206.86 89.03,206.86"/>
<polygon fill="#fff" fill-opacity="0" stroke="#900040" stroke-width="1.05" points="93.29,204.25 95.69,204.25 95.69,205.80 97.64,205.80 97.64,208.20 95.69,208.20 95.69,209.75 93.29,209.75 93.29,208.20 91.34,208.20 91.34,205.80 93.29,205.80"/>
<polygon fill="#fff" fill-opacity="0" stroke="#900040" stroke-width="1.05" points="97.55,203.37 99.95,203.37 99.95,204.92 101.90,204.92 101.90,207.32 99.95,207.32 99.95,208.87 97.55,208.87 97.55,207.32 95.60,207.32 95.60,204.92 97.55,204.92"/>
<polygon fill="#fff" fill-opacity="0" stroke="#900040" stroke-width="1.05" points="101.81,200.12 104.21,200.12 104.21,201.67 106.16,201.67 106.16,204.07 104.21,204.07 104.21,205.62 101.81,205.62 101.81,204.07 99.86,204.07 99.86,201.67 101.81,201.67"/>
<line x1="107.27" y1="200.40" x2="107.27" y2="203.73" stroke="#900040" stroke-width="1" stroke-dasharray="1 1.2"/>
<line x1="106.07" y1="200.40" x2="108.47" y2="200.40" stroke="#900040" stroke-width="0.8"/>
<line x1="106.07" y1="203.73" x2="108.47" y2="203.73" stroke="#900040" stroke-width="0.8"/>
<polygon fill="#fff" fill-opacity="0" stroke="#900040" stroke-width="1.05" points="106.07,199.27 108.47,199.27 108.47,200.82 110.42,200.82 110.42,203.22 108.47,203.22 108.47,204.77 106.07,204.77 106.07,203.22 104.12,203.22 104.12,200.82 106.07,200.82"/>
<line x1="112.59" y1="196.68" x2="112.59" y2="200.68" stroke="#900040" stroke-width="1" stroke-dasharray="1 1.2"/>
<line x1="111.39" y1="196.68" x2="113.80" y2="196.68" stroke="#900040" stroke-width="0.8"/>
<line x1="111.39" y1="200.68" x2="113.80" y2="200.68" stroke="#900040" stroke-width="0.8"/>
<polygon fill="#fff" fill-opacity="0" stroke="#900040" stroke-width="1.05" points="111.39,195.87 113.80,195.87 113.80,197.42 115.75,197.42 115.75,199.82 113.80,199.82 113.80,201.37 111.39,201.37 111.39,199.82 109.44,199.82 109.44,197.42 111.39,197.42"/>
<line x1="118.98" y1="194.56" x2="118.98" y2="199.46" stroke="#900040" stroke-width="1" stroke-dasharray="1 1.2"/>
<line x1="117.78" y1="194.56" x2="120.19" y2="194.56" stroke="#900040" stroke-width="0.8"/>
<line x1="117.78" y1="199.46" x2="120.19" y2="199.46" stroke="#900040" stroke-width="0.8"/>
<polygon fill="#fff" fill-opacity="0" stroke="#900040" stroke-width="1.05" points="117.78,194.17 120.19,194.17 120.19,195.72 122.14,195.72 122.14,198.12 120.19,198.12 120.19,199.67 117.78,199.67 117.78,198.12 115.83,198.12 115.83,195.72 117.78,195.72"/>
<line x1="125.38" y1="193.51" x2="125.38" y2="199.45" stroke="#900040" stroke-width="1" stroke-dasharray="1 1.2"/>
<line x1="124.17" y1="193.51" x2="126.58" y2="193.51" stroke="#900040" stroke-width="0.8"/>
<line x1="124.17" y1="199.45" x2="126.58" y2="199.45" stroke="#900040" stroke-width="0.8"/>
<polygon fill="#fff" fill-opacity="0" stroke="#900040" stroke-width="1.05" points="124.17,193.60 126.58,193.60 126.58,195.15 128.53,195.15 128.53,197.55 126.58,197.55 126.58,199.10 124.17,199.10 124.17,197.55 122.22,197.55 122.22,195.15 124.17,195.15"/>
<line x1="131.76" y1="192.34" x2="131.76" y2="200.14" stroke="#900040" stroke-width="1" stroke-dasharray="1 1.2"/>
<line x1="130.56" y1="192.34" x2="132.96" y2="192.34" stroke="#900040" stroke-width="0.8"/>
<line x1="130.56" y1="200.14" x2="132.96" y2="200.14" stroke="#900040" stroke-width="0.8"/>
<polygon fill="#fff" fill-opacity="0" stroke="#900040" stroke-width="1.05" points="130.56,193.25 132.96,193.25 132.96,194.80 134.91,194.80 134.91,197.20 132.96,197.20 132.96,198.75 130.56,198.75 130.56,197.20 128.61,197.20 128.61,194.80 130.56,194.80"/>
<line x1="139.22" y1="190.28" x2="139.22" y2="198.39" stroke="#900040" stroke-width="1" stroke-dasharray="1 1.2"/>
<line x1="138.02" y1="190.28" x2="140.42" y2="190.28" stroke="#900040" stroke-width="0.8"/>
<line x1="138.02" y1="198.39" x2="140.42" y2="198.39" stroke="#900040" stroke-width="0.8"/>
<polygon fill="#fff" fill-opacity="0" stroke="#900040" stroke-width="1.05" points="138.02,191.32 140.42,191.32 140.42,192.87 142.37,192.87 142.37,195.27 140.42,195.27 140.42,196.82 138.02,196.82 138.02,195.27 136.07,195.27 136.07,192.87 138.02,192.87"/>
<line x1="147.74" y1="185.66" x2="147.74" y2="196.30" stroke="#900040" stroke-width="1" stroke-dasharray="1 1.2"/>
<line x1="146.54" y1="185.66" x2="148.94" y2="185.66" stroke="#900040" stroke-width="0.8"/>
<line x1="146.54" y1="196.30" x2="148.94" y2="196.30" stroke="#900040" stroke-width="0.8"/>
<polygon fill="#fff" fill-opacity="0" stroke="#900040" stroke-width="1.05" points="146.54,187.79 148.94,187.79 148.94,189.34 150.89,189.34 150.89,191.74 148.94,191.74 148.94,193.29 146.54,193.29 146.54,191.74 144.59,191.74 144.59,189.34 146.54,189.34"/>
<line x1="156.26" y1="185.53" x2="156.26" y2="198.26" stroke="#900040" stroke-width="1" stroke-dasharray="1 1.2"/>
<line x1="155.06" y1="185.53" x2="157.46" y2="185.53" stroke="#900040" stroke-width="0.8"/>
<line x1="155.06" y1="198.26" x2="157.46" y2="198.26" stroke="#900040" stroke-width="0.8"/>
<polygon fill="#fff" fill-opacity="0" stroke="#900040" stroke-width="1.05" points="155.06,188.51 157.46,188.51 157.46,190.06 159.41,190.06 159.41,192.46 157.46,192.46 157.46,194.01 155.06,194.01 155.06,192.46 153.11,192.46 153.11,190.06 155.06,190.06"/>
<line x1="165.85" y1="199.17" x2="165.85" y2="215.76" stroke="#900040" stroke-width="1" stroke-dasharray="1 1.2"/>
<line x1="164.65" y1="199.17" x2="167.05" y2="199.17" stroke="#900040" stroke-width="0.8"/>
<line x1="164.65" y1="215.76" x2="167.05" y2="215.76" stroke="#900040" stroke-width="0.8"/>
<polygon fill="#fff" fill-opacity="0" stroke="#900040" stroke-width="1.05" points="164.65,203.64 167.05,203.64 167.05,205.19 169.00,205.19 169.00,207.59 167.05,207.59 167.05,209.14 164.65,209.14 164.65,207.59 162.70,207.59 162.70,205.19 164.65,205.19"/>
<line x1="177.56" y1="178.00" x2="177.56" y2="196.49" stroke="#900040" stroke-width="1" stroke-dasharray="1 1.2"/>
<line x1="176.36" y1="178.00" x2="178.76" y2="178.00" stroke="#900040" stroke-width="0.8"/>
<line x1="176.36" y1="196.49" x2="178.76" y2="196.49" stroke="#900040" stroke-width="0.8"/>
<polygon fill="#fff" fill-opacity="0" stroke="#900040" stroke-width="1.05" points="176.36,183.17 178.76,183.17 178.76,184.72 180.71,184.72 180.71,187.12 178.76,187.12 178.76,188.67 176.36,188.67 176.36,187.12 174.41,187.12 174.41,184.72 176.36,184.72"/>
<line x1="189.28" y1="183.74" x2="189.28" y2="211.62" stroke="#900040" stroke-width="1" stroke-dasharray="1 1.2"/>
<line x1="188.08" y1="183.74" x2="190.47" y2="183.74" stroke="#900040" stroke-width="0.8"/>
<line x1="188.08" y1="211.62" x2="190.47" y2="211.62" stroke="#900040" stroke-width="0.8"/>
<polygon fill="#fff" fill-opacity="0" stroke="#900040" stroke-width="1.05" points="188.08,191.97 190.47,191.97 190.47,193.52 192.43,193.52 192.43,195.92 190.47,195.92 190.47,197.47 188.08,197.47 188.08,195.92 186.12,195.92 186.12,193.52 188.08,193.52"/>
<line x1="199.93" y1="178.18" x2="199.93" y2="219.08" stroke="#900040" stroke-width="1" stroke-dasharray="1 1.2"/>
<line x1="198.73" y1="178.18" x2="201.12" y2="178.18" stroke="#900040" stroke-width="0.8"/>
<line x1="198.73" y1="219.08" x2="201.12" y2="219.08" stroke="#900040" stroke-width="0.8"/>
<polygon fill="#fff" fill-opacity="0" stroke="#900040" stroke-width="1.05" points="198.73,189.71 201.12,189.71 201.12,191.26 203.08,191.26 203.08,193.66 201.12,193.66 201.12,195.21 198.73,195.21 198.73,193.66 196.78,193.66 196.78,191.26 198.73,191.26"/>
<line x1="210.58" y1="144.41" x2="210.58" y2="175.52" stroke="#900040" stroke-width="1" stroke-dasharray="1 1.2"/>
<line x1="209.38" y1="144.41" x2="211.78" y2="144.41" stroke="#900040" stroke-width="0.8"/>
<line x1="209.38" y1="175.52" x2="211.78" y2="175.52" stroke="#900040" stroke-width="0.8"/>
<polygon fill="#fff" fill-opacity="0" stroke="#900040" stroke-width="1.05" points="209.38,153.55 211.78,153.55 211.78,155.10 213.73,155.10 213.73,157.50 211.78,157.50 211.78,159.05 209.38,159.05 209.38,157.50 207.43,157.50 207.43,155.10 209.38,155.10"/>
<line x1="221.22" y1="93.36" x2="221.22" y2="2000.00" stroke="#900040" stroke-width="1" stroke-dasharray="1 1.2"/>
<line x1="220.03" y1="93.36" x2="222.42" y2="93.36" stroke="#900040" stroke-width="0.8"/>
<polygon fill="#fff" fill-opacity="0" stroke="#900040" stroke-width="1.05" points="220.03,115.55 222.42,115.55 222.42,117.10 224.38,117.10 224.38,119.50 222.42,119.50 222.42,121.05 220.03,121.05 220.03,119.50 218.07,119.50 218.07,117.10 220.03,117.10"/>
<line x1="269.15" y1="144.16" x2="269.15" y2="209.80" stroke="#900040" stroke-width="1" stroke-dasharray="1 1.2"/>
<line x1="267.95" y1="144.16" x2="270.35" y2="144.16" stroke="#900040" stroke-width="0.8"/>
<line x1="267.95" y1="209.80" x2="270.35" y2="209.80" stroke="#900040" stroke-width="0.8"/>
<polygon fill="#fff" fill-opacity="0" stroke="#900040" stroke-width="1.05" points="267.95,159.65 270.35,159.65 270.35,161.20 272.30,161.20 272.30,163.60 270.35,163.60 270.35,165.15 267.95,165.15 267.95,163.60 266.00,163.60 266.00,161.20 267.95,161.20"/>
<line x1="349.03" y1="124.59" x2="349.03" y2="2000.00" stroke="#900040" stroke-width="1" stroke-dasharray="1 1.2"/>
<line x1="347.83" y1="124.59" x2="350.23" y2="124.59" stroke="#900040" stroke-width="0.8"/>
<polygon fill="#fff" fill-opacity="0" stroke="#900040" stroke-width="1.05" points="347.83,150.55 350.23,150.55 350.23,152.10 352.18,152.10 352.18,154.50 350.23,154.50 350.23,156.05 347.83,156.05 347.83,154.50 345.88,154.50 345.88,152.10 347.83,152.10"/>
</g>
<g clip-path="url(#cm)">
<polyline fill="none" stroke="#ff6666" stroke-width="1.2"  points="48.70,268.26 50.83,256.06 52.95,250.30 55.09,244.21 57.22,236.90 59.34,232.14 61.48,228.13 63.61,224.46 65.73,222.39 67.87,220.50 70.00,218.99 72.12,217.96 74.25,216.93 77.45,214.96 81.71,212.98 85.97,211.81 90.23,210.24 94.49,210.09 98.75,210.01 103.01,208.72 107.27,207.18 112.59,207.05 118.98,204.70 125.38,205.98 131.76,211.05 139.22,205.16 147.74,206.14 156.26,194.10 165.85,202.75 177.56,199.08 189.28,200.50 199.93,204.50 210.58,201.95 221.22,187.63 234.00,219.74 249.98,191.89 269.15,223.13 290.45,204.48 317.07,211.33 349.03,215.35"/>
<circle cx="48.70" cy="268.26" r="2.0" fill="none" stroke="#ff6666" stroke-width="1.5"/>
<circle cx="50.83" cy="256.06" r="2.0" fill="none" stroke="#ff6666" stroke-width="1.5"/>
<circle cx="52.95" cy="250.30" r="2.0" fill="none" stroke="#ff6666" stroke-width="1.5"/>
<circle cx="55.09" cy="244.21" r="2.0" fill="none" stroke="#ff6666" stroke-width="1.5"/>
<circle cx="57.22" cy="236.90" r="2.0" fill="none" stroke="#ff6666" stroke-width="1.5"/>
<circle cx="59.34" cy="232.14" r="2.0" fill="none" stroke="#ff6666" stroke-width="1.5"/>
<circle cx="61.48" cy="228.13" r="2.0" fill="none" stroke="#ff6666" stroke-width="1.5"/>
<circle cx="63.61" cy="224.46" r="2.0" fill="none" stroke="#ff6666" stroke-width="1.5"/>
<circle cx="65.73" cy="222.39" r="2.0" fill="none" stroke="#ff6666" stroke-width="1.5"/>
<circle cx="67.87" cy="220.50" r="2.0" fill="none" stroke="#ff6666" stroke-width="1.5"/>
<circle cx="70.00" cy="218.99" r="2.0" fill="none" stroke="#ff6666" stroke-width="1.5"/>
<circle cx="72.12" cy="217.96" r="2.0" fill="none" stroke="#ff6666" stroke-width="1.5"/>
<circle cx="74.25" cy="216.93" r="2.0" fill="none" stroke="#ff6666" stroke-width="1.5"/>
<circle cx="77.45" cy="214.96" r="2.0" fill="none" stroke="#ff6666" stroke-width="1.5"/>
<circle cx="81.71" cy="212.98" r="2.0" fill="none" stroke="#ff6666" stroke-width="1.5"/>
<circle cx="85.97" cy="211.81" r="2.0" fill="none" stroke="#ff6666" stroke-width="1.5"/>
<circle cx="90.23" cy="210.24" r="2.0" fill="none" stroke="#ff6666" stroke-width="1.5"/>
<circle cx="94.49" cy="210.09" r="2.0" fill="none" stroke="#ff6666" stroke-width="1.5"/>
<circle cx="98.75" cy="210.01" r="2.0" fill="none" stroke="#ff6666" stroke-width="1.5"/>
<circle cx="103.01" cy="208.72" r="2.0" fill="none" stroke="#ff6666" stroke-width="1.5"/>
<circle cx="107.27" cy="207.18" r="2.0" fill="none" stroke="#ff6666" stroke-width="1.5"/>
<circle cx="112.59" cy="207.05" r="2.0" fill="none" stroke="#ff6666" stroke-width="1.5"/>
<line x1="118.98" y1="203.12" x2="118.98" y2="206.37" stroke="#ff6666" stroke-width="1" />
<line x1="117.48" y1="203.12" x2="120.48" y2="203.12" stroke="#ff6666" stroke-width="1"/>
<line x1="117.48" y1="206.37" x2="120.48" y2="206.37" stroke="#ff6666" stroke-width="1"/>
<circle cx="118.98" cy="204.70" r="2.0" fill="none" stroke="#ff6666" stroke-width="1.5"/>
<line x1="125.38" y1="204.04" x2="125.38" y2="208.05" stroke="#ff6666" stroke-width="1" />
<line x1="123.88" y1="204.04" x2="126.88" y2="204.04" stroke="#ff6666" stroke-width="1"/>
<line x1="123.88" y1="208.05" x2="126.88" y2="208.05" stroke="#ff6666" stroke-width="1"/>
<circle cx="125.38" cy="205.98" r="2.0" fill="none" stroke="#ff6666" stroke-width="1.5"/>
<line x1="131.76" y1="207.01" x2="131.76" y2="215.69" stroke="#ff6666" stroke-width="1" />
<line x1="130.26" y1="207.01" x2="133.26" y2="207.01" stroke="#ff6666" stroke-width="1"/>
<line x1="130.26" y1="215.69" x2="133.26" y2="215.69" stroke="#ff6666" stroke-width="1"/>
<circle cx="131.76" cy="211.05" r="2.0" fill="none" stroke="#ff6666" stroke-width="1.5"/>
<line x1="139.22" y1="202.99" x2="139.22" y2="207.49" stroke="#ff6666" stroke-width="1" />
<line x1="137.72" y1="202.99" x2="140.72" y2="202.99" stroke="#ff6666" stroke-width="1"/>
<line x1="137.72" y1="207.49" x2="140.72" y2="207.49" stroke="#ff6666" stroke-width="1"/>
<circle cx="139.22" cy="205.16" r="2.0" fill="none" stroke="#ff6666" stroke-width="1.5"/>
<line x1="147.74" y1="203.45" x2="147.74" y2="209.07" stroke="#ff6666" stroke-width="1" />
<line x1="146.24" y1="203.45" x2="149.24" y2="203.45" stroke="#ff6666" stroke-width="1"/>
<line x1="146.24" y1="209.07" x2="149.24" y2="209.07" stroke="#ff6666" stroke-width="1"/>
<circle cx="147.74" cy="206.14" r="2.0" fill="none" stroke="#ff6666" stroke-width="1.5"/>
<line x1="156.26" y1="190.44" x2="156.26" y2="198.24" stroke="#ff6666" stroke-width="1" />
<line x1="154.76" y1="190.44" x2="157.76" y2="190.44" stroke="#ff6666" stroke-width="1"/>
<line x1="154.76" y1="198.24" x2="157.76" y2="198.24" stroke="#ff6666" stroke-width="1"/>
<circle cx="156.26" cy="194.10" r="2.0" fill="none" stroke="#ff6666" stroke-width="1.5"/>
<line x1="165.85" y1="199.33" x2="165.85" y2="206.59" stroke="#ff6666" stroke-width="1" />
<line x1="164.35" y1="199.33" x2="167.35" y2="199.33" stroke="#ff6666" stroke-width="1"/>
<line x1="164.35" y1="206.59" x2="167.35" y2="206.59" stroke="#ff6666" stroke-width="1"/>
<circle cx="165.85" cy="202.75" r="2.0" fill="none" stroke="#ff6666" stroke-width="1.5"/>
<line x1="177.56" y1="194.74" x2="177.56" y2="204.11" stroke="#ff6666" stroke-width="1" />
<line x1="176.06" y1="194.74" x2="179.06" y2="194.74" stroke="#ff6666" stroke-width="1"/>
<line x1="176.06" y1="204.11" x2="179.06" y2="204.11" stroke="#ff6666" stroke-width="1"/>
<circle cx="177.56" cy="199.08" r="2.0" fill="none" stroke="#ff6666" stroke-width="1.5"/>
<line x1="189.28" y1="195.65" x2="189.28" y2="206.23" stroke="#ff6666" stroke-width="1" />
<line x1="187.78" y1="195.65" x2="190.78" y2="195.65" stroke="#ff6666" stroke-width="1"/>
<line x1="187.78" y1="206.23" x2="190.78" y2="206.23" stroke="#ff6666" stroke-width="1"/>
<circle cx="189.28" cy="200.50" r="2.0" fill="none" stroke="#ff6666" stroke-width="1.5"/>
<line x1="199.93" y1="198.34" x2="199.93" y2="212.14" stroke="#ff6666" stroke-width="1" />
<line x1="198.43" y1="198.34" x2="201.43" y2="198.34" stroke="#ff6666" stroke-width="1"/>
<line x1="198.43" y1="212.14" x2="201.43" y2="212.14" stroke="#ff6666" stroke-width="1"/>
<circle cx="199.93" cy="204.50" r="2.0" fill="none" stroke="#ff6666" stroke-width="1.5"/>
<line x1="210.58" y1="194.33" x2="210.58" y2="212.01" stroke="#ff6666" stroke-width="1" />
<line x1="209.08" y1="194.33" x2="212.08" y2="194.33" stroke="#ff6666" stroke-width="1"/>
<line x1="209.08" y1="212.01" x2="212.08" y2="212.01" stroke="#ff6666" stroke-width="1"/>
<circle cx="210.58" cy="201.95" r="2.0" fill="none" stroke="#ff6666" stroke-width="1.5"/>
<line x1="221.22" y1="178.75" x2="221.22" y2="199.99" stroke="#ff6666" stroke-width="1" />
<line x1="219.72" y1="178.75" x2="222.72" y2="178.75" stroke="#ff6666" stroke-width="1"/>
<line x1="219.72" y1="199.99" x2="222.72" y2="199.99" stroke="#ff6666" stroke-width="1"/>
<circle cx="221.22" cy="187.63" r="2.0" fill="none" stroke="#ff6666" stroke-width="1.5"/>
<line x1="234.00" y1="206.03" x2="234.00" y2="244.37" stroke="#ff6666" stroke-width="1" />
<line x1="232.50" y1="206.03" x2="235.50" y2="206.03" stroke="#ff6666" stroke-width="1"/>
<line x1="232.50" y1="244.37" x2="235.50" y2="244.37" stroke="#ff6666" stroke-width="1"/>
<circle cx="234.00" cy="219.74" r="2.0" fill="none" stroke="#ff6666" stroke-width="1.5"/>
<line x1="249.98" y1="182.56" x2="249.98" y2="205.16" stroke="#ff6666" stroke-width="1" />
<line x1="248.48" y1="182.56" x2="251.48" y2="182.56" stroke="#ff6666" stroke-width="1"/>
<line x1="248.48" y1="205.16" x2="251.48" y2="205.16" stroke="#ff6666" stroke-width="1"/>
<circle cx="249.98" cy="191.89" r="2.0" fill="none" stroke="#ff6666" stroke-width="1.5"/>
<line x1="269.15" y1="207.84" x2="269.15" y2="253.72" stroke="#ff6666" stroke-width="1" />
<line x1="267.65" y1="207.84" x2="270.65" y2="207.84" stroke="#ff6666" stroke-width="1"/>
<line x1="267.65" y1="253.72" x2="270.65" y2="253.72" stroke="#ff6666" stroke-width="1"/>
<circle cx="269.15" cy="223.13" r="2.0" fill="none" stroke="#ff6666" stroke-width="1.5"/>
<line x1="290.45" y1="191.70" x2="290.45" y2="226.19" stroke="#ff6666" stroke-width="1" />
<line x1="288.95" y1="191.70" x2="291.95" y2="191.70" stroke="#ff6666" stroke-width="1"/>
<line x1="288.95" y1="226.19" x2="291.95" y2="226.19" stroke="#ff6666" stroke-width="1"/>
<circle cx="290.45" cy="204.48" r="2.0" fill="none" stroke="#ff6666" stroke-width="1.5"/>
<line x1="317.07" y1="197.51" x2="317.07" y2="236.31" stroke="#ff6666" stroke-width="1" />
<line x1="315.57" y1="197.51" x2="318.57" y2="197.51" stroke="#ff6666" stroke-width="1"/>
<line x1="315.57" y1="236.31" x2="318.57" y2="236.31" stroke="#ff6666" stroke-width="1"/>
<circle cx="317.07" cy="211.33" r="2.0" fill="none" stroke="#ff6666" stroke-width="1.5"/>
<line x1="349.03" y1="191.88" x2="349.03" y2="2000.00" stroke="#ff6666" stroke-width="1" />
<line x1="347.53" y1="191.88" x2="350.53" y2="191.88" stroke="#ff6666" stroke-width="1"/>
<circle cx="349.03" cy="215.35" r="2.0" fill="none" stroke="#ff6666" stroke-width="1.5"/>
</g>
<g clip-path="url(#cm)">
<polyline fill="none" stroke="#0000e6" stroke-width="1.2"  points="48.70,259.97 50.83,252.47 52.95,248.32 55.09,243.85 57.22,239.12 59.34,236.09 61.48,232.90 63.61,230.08 65.73,228.59 67.87,226.75 70.00,225.27 72.12,224.17 74.25,223.07 77.45,221.68 81.71,219.72 85.97,217.64 90.23,216.17 94.49,215.29 98.75,214.41 103.01,213.56 107.27,211.86 112.59,210.42 118.98,209.90 125.38,208.27 131.76,207.09 139.22,206.58 147.74,204.46 156.26,202.94 165.85,206.10 177.56,200.68 189.28,207.34 199.93,202.50 210.58,201.37 221.22,206.21 234.00,206.21 249.98,204.44 269.15,197.57 290.45,211.61 317.07,213.33 349.03,198.22"/>
<polygon fill="#0000e6" points="48.70,256.77 51.40,262.57 45.99,262.57"/>
<polygon fill="#0000e6" points="50.83,249.27 53.53,255.07 48.12,255.07"/>
<polygon fill="#0000e6" points="52.95,245.12 55.66,250.92 50.25,250.92"/>
<polygon fill="#0000e6" points="55.09,240.65 57.79,246.45 52.38,246.45"/>
<polygon fill="#0000e6" points="57.22,235.92 59.92,241.72 54.52,241.72"/>
<polygon fill="#0000e6" points="59.34,232.89 62.05,238.69 56.64,238.69"/>
<polygon fill="#0000e6" points="61.48,229.70 64.17,235.50 58.77,235.50"/>
<polygon fill="#0000e6" points="63.61,226.88 66.31,232.68 60.91,232.68"/>
<polygon fill="#0000e6" points="65.73,225.39 68.44,231.19 63.03,231.19"/>
<polygon fill="#0000e6" points="67.87,223.55 70.57,229.35 65.17,229.35"/>
<polygon fill="#0000e6" points="70.00,222.07 72.70,227.87 67.30,227.87"/>
<polygon fill="#0000e6" points="72.12,220.97 74.83,226.77 69.42,226.77"/>
<polygon fill="#0000e6" points="74.25,219.87 76.95,225.67 71.55,225.67"/>
<polygon fill="#0000e6" points="77.45,218.48 80.15,224.28 74.75,224.28"/>
<polygon fill="#0000e6" points="81.71,216.52 84.41,222.32 79.01,222.32"/>
<polygon fill="#0000e6" points="85.97,214.44 88.67,220.24 83.27,220.24"/>
<polygon fill="#0000e6" points="90.23,212.97 92.93,218.77 87.53,218.77"/>
<polygon fill="#0000e6" points="94.49,212.09 97.19,217.89 91.79,217.89"/>
<polygon fill="#0000e6" points="98.75,211.21 101.45,217.01 96.05,217.01"/>
<polygon fill="#0000e6" points="103.01,210.36 105.71,216.16 100.31,216.16"/>
<polygon fill="#0000e6" points="107.27,208.66 109.97,214.46 104.57,214.46"/>
<polygon fill="#0000e6" points="112.59,207.22 115.30,213.02 109.89,213.02"/>
<polygon fill="#0000e6" points="118.98,206.70 121.69,212.50 116.28,212.50"/>
<polygon fill="#0000e6" points="125.38,205.07 128.07,210.87 122.67,210.87"/>
<polygon fill="#0000e6" points="131.76,203.89 134.46,209.69 129.06,209.69"/>
<polygon fill="#0000e6" points="139.22,203.38 141.92,209.18 136.52,209.18"/>
<polygon fill="#0000e6" points="147.74,201.26 150.44,207.06 145.04,207.06"/>
<polygon fill="#0000e6" points="156.26,199.74 158.96,205.54 153.56,205.54"/>
<line x1="165.85" y1="204.45" x2="165.85" y2="207.84" stroke="#0000e6" stroke-width="1" />
<line x1="164.35" y1="204.45" x2="167.35" y2="204.45" stroke="#0000e6" stroke-width="1"/>
<line x1="164.35" y1="207.84" x2="167.35" y2="207.84" stroke="#0000e6" stroke-width="1"/>
<polygon fill="#0000e6" points="165.85,202.90 168.55,208.70 163.15,208.70"/>
<line x1="177.56" y1="199.21" x2="177.56" y2="202.22" stroke="#0000e6" stroke-width="1" />
<line x1="176.06" y1="199.21" x2="179.06" y2="199.21" stroke="#0000e6" stroke-width="1"/>
<line x1="176.06" y1="202.22" x2="179.06" y2="202.22" stroke="#0000e6" stroke-width="1"/>
<polygon fill="#0000e6" points="177.56,197.48 180.26,203.28 174.86,203.28"/>
<line x1="189.28" y1="204.88" x2="189.28" y2="210.00" stroke="#0000e6" stroke-width="1" />
<line x1="187.78" y1="204.88" x2="190.78" y2="204.88" stroke="#0000e6" stroke-width="1"/>
<line x1="187.78" y1="210.00" x2="190.78" y2="210.00" stroke="#0000e6" stroke-width="1"/>
<polygon fill="#0000e6" points="189.28,204.14 191.97,209.94 186.58,209.94"/>
<line x1="199.93" y1="200.19" x2="199.93" y2="204.99" stroke="#0000e6" stroke-width="1" />
<line x1="198.43" y1="200.19" x2="201.43" y2="200.19" stroke="#0000e6" stroke-width="1"/>
<line x1="198.43" y1="204.99" x2="201.43" y2="204.99" stroke="#0000e6" stroke-width="1"/>
<polygon fill="#0000e6" points="199.93,199.30 202.62,205.10 197.23,205.10"/>
<line x1="210.58" y1="198.09" x2="210.58" y2="205.04" stroke="#0000e6" stroke-width="1" />
<line x1="209.08" y1="198.09" x2="212.08" y2="198.09" stroke="#0000e6" stroke-width="1"/>
<line x1="209.08" y1="205.04" x2="212.08" y2="205.04" stroke="#0000e6" stroke-width="1"/>
<polygon fill="#0000e6" points="210.58,198.17 213.28,203.97 207.88,203.97"/>
<line x1="221.22" y1="202.41" x2="221.22" y2="210.52" stroke="#0000e6" stroke-width="1" />
<line x1="219.72" y1="202.41" x2="222.72" y2="202.41" stroke="#0000e6" stroke-width="1"/>
<line x1="219.72" y1="210.52" x2="222.72" y2="210.52" stroke="#0000e6" stroke-width="1"/>
<polygon fill="#0000e6" points="221.22,203.01 223.92,208.81 218.53,208.81"/>
<line x1="234.00" y1="202.41" x2="234.00" y2="210.52" stroke="#0000e6" stroke-width="1" />
<line x1="232.50" y1="202.41" x2="235.50" y2="202.41" stroke="#0000e6" stroke-width="1"/>
<line x1="232.50" y1="210.52" x2="235.50" y2="210.52" stroke="#0000e6" stroke-width="1"/>
<polygon fill="#0000e6" points="234.00,203.01 236.70,208.81 231.31,208.81"/>
<line x1="249.98" y1="200.25" x2="249.98" y2="209.25" stroke="#0000e6" stroke-width="1" />
<line x1="248.48" y1="200.25" x2="251.48" y2="200.25" stroke="#0000e6" stroke-width="1"/>
<line x1="248.48" y1="209.25" x2="251.48" y2="209.25" stroke="#0000e6" stroke-width="1"/>
<polygon fill="#0000e6" points="249.98,201.24 252.68,207.04 247.28,207.04"/>
<line x1="269.15" y1="193.46" x2="269.15" y2="202.30" stroke="#0000e6" stroke-width="1" />
<line x1="267.65" y1="193.46" x2="270.65" y2="193.46" stroke="#0000e6" stroke-width="1"/>
<line x1="267.65" y1="202.30" x2="270.65" y2="202.30" stroke="#0000e6" stroke-width="1"/>
<polygon fill="#0000e6" points="269.15,194.37 271.85,200.17 266.45,200.17"/>
<line x1="290.45" y1="205.46" x2="290.45" y2="219.24" stroke="#0000e6" stroke-width="1" />
<line x1="288.95" y1="205.46" x2="291.95" y2="205.46" stroke="#0000e6" stroke-width="1"/>
<line x1="288.95" y1="219.24" x2="291.95" y2="219.24" stroke="#0000e6" stroke-width="1"/>
<polygon fill="#0000e6" points="290.45,208.41 293.15,214.21 287.75,214.21"/>
<line x1="317.07" y1="207.35" x2="317.07" y2="220.70" stroke="#0000e6" stroke-width="1" />
<line x1="315.57" y1="207.35" x2="318.57" y2="207.35" stroke="#0000e6" stroke-width="1"/>
<line x1="315.57" y1="220.70" x2="318.57" y2="220.70" stroke="#0000e6" stroke-width="1"/>
<polygon fill="#0000e6" points="317.07,210.13 319.77,215.93 314.38,215.93"/>
<line x1="349.03" y1="191.23" x2="349.03" y2="207.19" stroke="#0000e6" stroke-width="1" />
<line x1="347.53" y1="191.23" x2="350.53" y2="191.23" stroke="#0000e6" stroke-width="1"/>
<line x1="347.53" y1="207.19" x2="350.53" y2="207.19" stroke="#0000e6" stroke-width="1"/>
<polygon fill="#0000e6" points="349.03,195.02 351.73,200.82 346.33,200.82"/>
</g>
<g fill="none" stroke="#000">
<rect x="45.5" y="17.4" width="325.7" height="300.1" stroke-width="1.2"/>
<line x1="45.5" y1="317.5" x2="45.5" y2="477.8" stroke-width="1.2"/>
<line x1="371.2" y1="317.5" x2="371.2" y2="477.8" stroke-width="1.2"/>
<line x1="44.9" y1="477.8" x2="371.8" y2="477.8" stroke-width="1.8"/>
</g>
<g stroke="#000"><line x1="56.15" y1="17.40" x2="56.15" y2="19.90" stroke-width="1"/><line x1="56.15" y1="315.30" x2="56.15" y2="319.70" stroke-width="1"/><line x1="56.15" y1="475.80" x2="56.15" y2="477.80" stroke-width="1"/><line x1="66.80" y1="17.40" x2="66.80" y2="21.70" stroke-width="1"/><line x1="66.80" y1="313.30" x2="66.80" y2="319.90" stroke-width="1"/><line x1="66.80" y1="474.80" x2="66.80" y2="477.80" stroke-width="1"/><line x1="77.45" y1="17.40" x2="77.45" y2="19.90" stroke-width="1"/><line x1="77.45" y1="315.30" x2="77.45" y2="319.70" stroke-width="1"/><line x1="77.45" y1="475.80" x2="77.45" y2="477.80" stroke-width="1"/><line x1="88.10" y1="17.40" x2="88.10" y2="21.70" stroke-width="1"/><line x1="88.10" y1="313.30" x2="88.10" y2="319.90" stroke-width="1"/><line x1="88.10" y1="474.80" x2="88.10" y2="477.80" stroke-width="1"/><line x1="98.75" y1="17.40" x2="98.75" y2="19.90" stroke-width="1"/><line x1="98.75" y1="315.30" x2="98.75" y2="319.70" stroke-width="1"/><line x1="98.75" y1="475.80" x2="98.75" y2="477.80" stroke-width="1"/><line x1="109.40" y1="17.40" x2="109.40" y2="21.70" stroke-width="1"/><line x1="109.40" y1="313.30" x2="109.40" y2="319.90" stroke-width="1"/><line x1="109.40" y1="474.80" x2="109.40" y2="477.80" stroke-width="1"/><line x1="120.05" y1="17.40" x2="120.05" y2="19.90" stroke-width="1"/><line x1="120.05" y1="315.30" x2="120.05" y2="319.70" stroke-width="1"/><line x1="120.05" y1="475.80" x2="120.05" y2="477.80" stroke-width="1"/><line x1="130.70" y1="17.40" x2="130.70" y2="21.70" stroke-width="1"/><line x1="130.70" y1="313.30" x2="130.70" y2="319.90" stroke-width="1"/><line x1="130.70" y1="474.80" x2="130.70" y2="477.80" stroke-width="1"/><line x1="141.35" y1="17.40" x2="141.35" y2="19.90" stroke-width="1"/><line x1="141.35" y1="315.30" x2="141.35" y2="319.70" stroke-width="1"/><line x1="141.35" y1="475.80" x2="141.35" y2="477.80" stroke-width="1"/><line x1="152.00" y1="17.40" x2="152.00" y2="25.40" stroke-width="1"/><line x1="152.00" y1="310.00" x2="152.00" y2="322.50" stroke-width="1"/><line x1="152.00" y1="473.30" x2="152.00" y2="477.80" stroke-width="1"/><line x1="162.65" y1="17.40" x2="162.65" y2="19.90" stroke-width="1"/><line x1="162.65" y1="315.30" x2="162.65" y2="319.70" stroke-width="1"/><line x1="162.65" y1="475.80" x2="162.65" y2="477.80" stroke-width="1"/><line x1="173.30" y1="17.40" x2="173.30" y2="21.70" stroke-width="1"/><line x1="173.30" y1="313.30" x2="173.30" y2="319.90" stroke-width="1"/><line x1="173.30" y1="474.80" x2="173.30" y2="477.80" stroke-width="1"/><line x1="183.95" y1="17.40" x2="183.95" y2="19.90" stroke-width="1"/><line x1="183.95" y1="315.30" x2="183.95" y2="319.70" stroke-width="1"/><line x1="183.95" y1="475.80" x2="183.95" y2="477.80" stroke-width="1"/><line x1="194.60" y1="17.40" x2="194.60" y2="21.70" stroke-width="1"/><line x1="194.60" y1="313.30" x2="194.60" y2="319.90" stroke-width="1"/><line x1="194.60" y1="474.80" x2="194.60" y2="477.80" stroke-width="1"/><line x1="205.25" y1="17.40" x2="205.25" y2="19.90" stroke-width="1"/><line x1="205.25" y1="315.30" x2="205.25" y2="319.70" stroke-width="1"/><line x1="205.25" y1="475.80" x2="205.25" y2="477.80" stroke-width="1"/><line x1="215.90" y1="17.40" x2="215.90" y2="21.70" stroke-width="1"/><line x1="215.90" y1="313.30" x2="215.90" y2="319.90" stroke-width="1"/><line x1="215.90" y1="474.80" x2="215.90" y2="477.80" stroke-width="1"/><line x1="226.55" y1="17.40" x2="226.55" y2="19.90" stroke-width="1"/><line x1="226.55" y1="315.30" x2="226.55" y2="319.70" stroke-width="1"/><line x1="226.55" y1="475.80" x2="226.55" y2="477.80" stroke-width="1"/><line x1="237.20" y1="17.40" x2="237.20" y2="21.70" stroke-width="1"/><line x1="237.20" y1="313.30" x2="237.20" y2="319.90" stroke-width="1"/><line x1="237.20" y1="474.80" x2="237.20" y2="477.80" stroke-width="1"/><line x1="247.85" y1="17.40" x2="247.85" y2="19.90" stroke-width="1"/><line x1="247.85" y1="315.30" x2="247.85" y2="319.70" stroke-width="1"/><line x1="247.85" y1="475.80" x2="247.85" y2="477.80" stroke-width="1"/><line x1="258.50" y1="17.40" x2="258.50" y2="25.40" stroke-width="1"/><line x1="258.50" y1="310.00" x2="258.50" y2="322.50" stroke-width="1"/><line x1="258.50" y1="473.30" x2="258.50" y2="477.80" stroke-width="1"/><line x1="269.15" y1="17.40" x2="269.15" y2="19.90" stroke-width="1"/><line x1="269.15" y1="315.30" x2="269.15" y2="319.70" stroke-width="1"/><line x1="269.15" y1="475.80" x2="269.15" y2="477.80" stroke-width="1"/><line x1="279.80" y1="17.40" x2="279.80" y2="21.70" stroke-width="1"/><line x1="279.80" y1="313.30" x2="279.80" y2="319.90" stroke-width="1"/><line x1="279.80" y1="474.80" x2="279.80" y2="477.80" stroke-width="1"/><line x1="290.45" y1="17.40" x2="290.45" y2="19.90" stroke-width="1"/><line x1="290.45" y1="315.30" x2="290.45" y2="319.70" stroke-width="1"/><line x1="290.45" y1="475.80" x2="290.45" y2="477.80" stroke-width="1"/><line x1="301.10" y1="17.40" x2="301.10" y2="21.70" stroke-width="1"/><line x1="301.10" y1="313.30" x2="301.10" y2="319.90" stroke-width="1"/><line x1="301.10" y1="474.80" x2="301.10" y2="477.80" stroke-width="1"/><line x1="311.75" y1="17.40" x2="311.75" y2="19.90" stroke-width="1"/><line x1="311.75" y1="315.30" x2="311.75" y2="319.70" stroke-width="1"/><line x1="311.75" y1="475.80" x2="311.75" y2="477.80" stroke-width="1"/><line x1="322.40" y1="17.40" x2="322.40" y2="21.70" stroke-width="1"/><line x1="322.40" y1="313.30" x2="322.40" y2="319.90" stroke-width="1"/><line x1="322.40" y1="474.80" x2="322.40" y2="477.80" stroke-width="1"/><line x1="333.05" y1="17.40" x2="333.05" y2="19.90" stroke-width="1"/><line x1="333.05" y1="315.30" x2="333.05" y2="319.70" stroke-width="1"/><line x1="333.05" y1="475.80" x2="333.05" y2="477.80" stroke-width="1"/><line x1="343.70" y1="17.40" x2="343.70" y2="21.70" stroke-width="1"/><line x1="343.70" y1="313.30" x2="343.70" y2="319.90" stroke-width="1"/><line x1="343.70" y1="474.80" x2="343.70" y2="477.80" stroke-width="1"/><line x1="354.35" y1="17.40" x2="354.35" y2="19.90" stroke-width="1"/><line x1="354.35" y1="315.30" x2="354.35" y2="319.70" stroke-width="1"/><line x1="354.35" y1="475.80" x2="354.35" y2="477.80" stroke-width="1"/><line x1="365.00" y1="17.40" x2="365.00" y2="25.40" stroke-width="1"/><line x1="365.00" y1="310.00" x2="365.00" y2="322.50" stroke-width="1"/><line x1="365.00" y1="473.30" x2="365.00" y2="477.80" stroke-width="1"/><line x1="45.50" y1="299.86" x2="51.00" y2="299.86" stroke-width="1"/><line x1="371.20" y1="299.86" x2="365.70" y2="299.86" stroke-width="1"/><line x1="45.50" y1="286.97" x2="51.00" y2="286.97" stroke-width="1"/><line x1="371.20" y1="286.97" x2="365.70" y2="286.97" stroke-width="1"/><line x1="45.50" y1="277.83" x2="51.00" y2="277.83" stroke-width="1"/><line x1="371.20" y1="277.83" x2="365.70" y2="277.83" stroke-width="1"/><line x1="45.50" y1="270.74" x2="51.00" y2="270.74" stroke-width="1"/><line x1="371.20" y1="270.74" x2="365.70" y2="270.74" stroke-width="1"/><line x1="45.50" y1="264.94" x2="51.00" y2="264.94" stroke-width="1"/><line x1="371.20" y1="264.94" x2="365.70" y2="264.94" stroke-width="1"/><line x1="45.50" y1="260.04" x2="51.00" y2="260.04" stroke-width="1"/><line x1="371.20" y1="260.04" x2="365.70" y2="260.04" stroke-width="1"/><line x1="45.50" y1="255.79" x2="51.00" y2="255.79" stroke-width="1"/><line x1="371.20" y1="255.79" x2="365.70" y2="255.79" stroke-width="1"/><line x1="45.50" y1="252.05" x2="51.00" y2="252.05" stroke-width="1"/><line x1="371.20" y1="252.05" x2="365.70" y2="252.05" stroke-width="1"/><line x1="45.50" y1="248.70" x2="56.50" y2="248.70" stroke-width="1"/><line x1="371.20" y1="248.70" x2="360.20" y2="248.70" stroke-width="1"/><line x1="45.50" y1="226.66" x2="51.00" y2="226.66" stroke-width="1"/><line x1="371.20" y1="226.66" x2="365.70" y2="226.66" stroke-width="1"/><line x1="45.50" y1="213.77" x2="51.00" y2="213.77" stroke-width="1"/><line x1="371.20" y1="213.77" x2="365.70" y2="213.77" stroke-width="1"/><line x1="45.50" y1="204.63" x2="51.00" y2="204.63" stroke-width="1"/><line x1="371.20" y1="204.63" x2="365.70" y2="204.63" stroke-width="1"/><line x1="45.50" y1="197.54" x2="51.00" y2="197.54" stroke-width="1"/><line x1="371.20" y1="197.54" x2="365.70" y2="197.54" stroke-width="1"/><line x1="45.50" y1="191.74" x2="51.00" y2="191.74" stroke-width="1"/><line x1="371.20" y1="191.74" x2="365.70" y2="191.74" stroke-width="1"/><line x1="45.50" y1="186.84" x2="51.00" y2="186.84" stroke-width="1"/><line x1="371.20" y1="186.84" x2="365.70" y2="186.84" stroke-width="1"/><line x1="45.50" y1="182.59" x2="51.00" y2="182.59" stroke-width="1"/><line x1="371.20" y1="182.59" x2="365.70" y2="182.59" stroke-width="1"/><line x1="45.50" y1="178.85" x2="51.00" y2="178.85" stroke-width="1"/><line x1="371.20" y1="178.85" x2="365.70" y2="178.85" stroke-width="1"/><line x1="45.50" y1="175.50" x2="56.50" y2="175.50" stroke-width="1"/><line x1="371.20" y1="175.50" x2="360.20" y2="175.50" stroke-width="1"/><line x1="45.50" y1="153.46" x2="51.00" y2="153.46" stroke-width="1"/><line x1="371.20" y1="153.46" x2="365.70" y2="153.46" stroke-width="1"/><line x1="45.50" y1="140.57" x2="51.00" y2="140.57" stroke-width="1"/><line x1="371.20" y1="140.57" x2="365.70" y2="140.57" stroke-width="1"/><line x1="45.50" y1="131.43" x2="51.00" y2="131.43" stroke-width="1"/><line x1="371.20" y1="131.43" x2="365.70" y2="131.43" stroke-width="1"/><line x1="45.50" y1="124.34" x2="51.00" y2="124.34" stroke-width="1"/><line x1="371.20" y1="124.34" x2="365.70" y2="124.34" stroke-width="1"/><line x1="45.50" y1="118.54" x2="51.00" y2="118.54" stroke-width="1"/><line x1="371.20" y1="118.54" x2="365.70" y2="118.54" stroke-width="1"/><line x1="45.50" y1="113.64" x2="51.00" y2="113.64" stroke-width="1"/><line x1="371.20" y1="113.64" x2="365.70" y2="113.64" stroke-width="1"/><line x1="45.50" y1="109.39" x2="51.00" y2="109.39" stroke-width="1"/><line x1="371.20" y1="109.39" x2="365.70" y2="109.39" stroke-width="1"/><line x1="45.50" y1="105.65" x2="51.00" y2="105.65" stroke-width="1"/><line x1="371.20" y1="105.65" x2="365.70" y2="105.65" stroke-width="1"/><line x1="45.50" y1="102.30" x2="56.50" y2="102.30" stroke-width="1"/><line x1="371.20" y1="102.30" x2="360.20" y2="102.30" stroke-width="1"/><line x1="45.50" y1="80.26" x2="51.00" y2="80.26" stroke-width="1"/><line x1="371.20" y1="80.26" x2="365.70" y2="80.26" stroke-width="1"/><line x1="45.50" y1="67.37" x2="51.00" y2="67.37" stroke-width="1"/><line x1="371.20" y1="67.37" x2="365.70" y2="67.37" stroke-width="1"/><line x1="45.50" y1="58.23" x2="51.00" y2="58.23" stroke-width="1"/><line x1="371.20" y1="58.23" x2="365.70" y2="58.23" stroke-width="1"/><line x1="45.50" y1="51.14" x2="51.00" y2="51.14" stroke-width="1"/><line x1="371.20" y1="51.14" x2="365.70" y2="51.14" stroke-width="1"/><line x1="45.50" y1="45.34" x2="51.00" y2="45.34" stroke-width="1"/><line x1="371.20" y1="45.34" x2="365.70" y2="45.34" stroke-width="1"/><line x1="45.50" y1="40.44" x2="51.00" y2="40.44" stroke-width="1"/><line x1="371.20" y1="40.44" x2="365.70" y2="40.44" stroke-width="1"/><line x1="45.50" y1="36.19" x2="51.00" y2="36.19" stroke-width="1"/><line x1="371.20" y1="36.19" x2="365.70" y2="36.19" stroke-width="1"/><line x1="45.50" y1="32.45" x2="51.00" y2="32.45" stroke-width="1"/><line x1="371.20" y1="32.45" x2="365.70" y2="32.45" stroke-width="1"/><line x1="45.50" y1="29.10" x2="56.50" y2="29.10" stroke-width="1"/><line x1="371.20" y1="29.10" x2="360.20" y2="29.10" stroke-width="1"/><line x1="45.50" y1="477.61" x2="51.00" y2="477.61" stroke-width="1"/><line x1="371.20" y1="477.61" x2="365.70" y2="477.61" stroke-width="1"/><line x1="45.50" y1="458.10" x2="52.50" y2="458.10" stroke-width="1"/><line x1="371.20" y1="458.10" x2="364.20" y2="458.10" stroke-width="1"/><line x1="45.50" y1="442.16" x2="51.00" y2="442.16" stroke-width="1"/><line x1="371.20" y1="442.16" x2="365.70" y2="442.16" stroke-width="1"/><line x1="45.50" y1="428.68" x2="51.00" y2="428.68" stroke-width="1"/><line x1="371.20" y1="428.68" x2="365.70" y2="428.68" stroke-width="1"/><line x1="45.50" y1="417.01" x2="51.00" y2="417.01" stroke-width="1"/><line x1="371.20" y1="417.01" x2="365.70" y2="417.01" stroke-width="1"/><line x1="45.50" y1="406.71" x2="51.00" y2="406.71" stroke-width="1"/><line x1="371.20" y1="406.71" x2="365.70" y2="406.71" stroke-width="1"/><line x1="45.50" y1="397.50" x2="52.50" y2="397.50" stroke-width="1"/><line x1="371.20" y1="397.50" x2="364.20" y2="397.50" stroke-width="1"/><line x1="45.50" y1="389.17" x2="51.00" y2="389.17" stroke-width="1"/><line x1="371.20" y1="389.17" x2="365.70" y2="389.17" stroke-width="1"/><line x1="45.50" y1="381.56" x2="51.00" y2="381.56" stroke-width="1"/><line x1="371.20" y1="381.56" x2="365.70" y2="381.56" stroke-width="1"/><line x1="45.50" y1="374.56" x2="51.00" y2="374.56" stroke-width="1"/><line x1="371.20" y1="374.56" x2="365.70" y2="374.56" stroke-width="1"/><line x1="45.50" y1="368.08" x2="51.00" y2="368.08" stroke-width="1"/><line x1="371.20" y1="368.08" x2="365.70" y2="368.08" stroke-width="1"/><line x1="45.50" y1="362.05" x2="51.00" y2="362.05" stroke-width="1"/><line x1="371.20" y1="362.05" x2="365.70" y2="362.05" stroke-width="1"/><line x1="45.50" y1="356.41" x2="51.00" y2="356.41" stroke-width="1"/><line x1="371.20" y1="356.41" x2="365.70" y2="356.41" stroke-width="1"/><line x1="45.50" y1="351.11" x2="51.00" y2="351.11" stroke-width="1"/><line x1="371.20" y1="351.11" x2="365.70" y2="351.11" stroke-width="1"/><line x1="45.50" y1="346.11" x2="51.00" y2="346.11" stroke-width="1"/><line x1="371.20" y1="346.11" x2="365.70" y2="346.11" stroke-width="1"/><line x1="45.50" y1="341.39" x2="51.00" y2="341.39" stroke-width="1"/><line x1="371.20" y1="341.39" x2="365.70" y2="341.39" stroke-width="1"/><line x1="45.50" y1="336.90" x2="52.50" y2="336.90" stroke-width="1"/><line x1="371.20" y1="336.90" x2="364.20" y2="336.90" stroke-width="1"/><line x1="45.50" y1="332.64" x2="51.00" y2="332.64" stroke-width="1"/><line x1="371.20" y1="332.64" x2="365.70" y2="332.64" stroke-width="1"/><line x1="45.50" y1="328.57" x2="51.00" y2="328.57" stroke-width="1"/><line x1="371.20" y1="328.57" x2="365.70" y2="328.57" stroke-width="1"/><line x1="45.50" y1="324.68" x2="51.00" y2="324.68" stroke-width="1"/><line x1="371.20" y1="324.68" x2="365.70" y2="324.68" stroke-width="1"/><line x1="45.50" y1="320.96" x2="51.00" y2="320.96" stroke-width="1"/><line x1="371.20" y1="320.96" x2="365.70" y2="320.96" stroke-width="1"/></g>
<rect x="73.70" y="59.20" width="5.6" height="5.6" fill="#000"/>
<line x1="64" y1="75.0" x2="88.5" y2="75.0" stroke="#900040" stroke-width="1.2" stroke-dasharray="1 1.2"/>
<polygon fill="#fff" fill-opacity="0" stroke="#900040" stroke-width="1.05" points="75.10,72.25 77.50,72.25 77.50,73.80 79.45,73.80 79.45,76.20 77.50,76.20 77.50,77.75 75.10,77.75 75.10,76.20 73.15,76.20 73.15,73.80 75.10,73.80"/>
<line x1="64" y1="88.0" x2="88.5" y2="88.0" stroke="#ff6666" stroke-width="1.2"/>
<circle cx="76.30" cy="88.10" r="2.0" fill="none" stroke="#ff6666" stroke-width="1.5"/>
<line x1="64" y1="101.0" x2="88.5" y2="101.0" stroke="#0000e6" stroke-width="1.2"/>
<polygon fill="#0000e6" points="76.30,98.00 79.00,103.80 73.60,103.80"/>
<g><text x="50.90" y="13.70" font-size="12.25" text-anchor="start" fill="#000" >13000 GeV pp</text><text x="366.60" y="13.70" font-size="12" text-anchor="end" fill="#000" >Soft QCD</text><text x="208.50" y="43.70" font-size="12.2" text-anchor="middle" fill="#000" >ALICE, 13 TeV</text><text x="94.00" y="65.40" font-size="9.5" text-anchor="start" fill="#000" >ALICE</text><text x="94.00" y="78.40" font-size="9.5" text-anchor="start" fill="#000" >Epos 1.99.crmc.1.6.0 default</text><text x="94.00" y="91.40" font-size="9.5" text-anchor="start" fill="#000" >Epos 1.99.crmc.1.6.0 lhc</text><text x="94.00" y="104.40" font-size="9.5" text-anchor="start" fill="#000" >Pythia 8.315 default</text><text x="207.30" y="301.50" font-size="8" text-anchor="middle" fill="#a0a0a0" >(ALICE_2020_I1797443)</text><text x="34.9" y="33.7" font-size="10.5" text-anchor="end">10</text><text x="34.90" y="29.40" font-size="7.6" text-anchor="start" fill="#000" >2</text><text x="39.80" y="106.00" font-size="11" text-anchor="end" fill="#000" >10</text><text x="39.80" y="179.70" font-size="11" text-anchor="end" fill="#000" >1</text><text x="32.90" y="254.20" font-size="10.5" text-anchor="end" fill="#000" >10</text><text x="32.90" y="250.30" font-size="7" text-anchor="start" fill="#000" >−1</text><text x="38.40" y="340.80" font-size="11.3" text-anchor="end" fill="#000" >2</text><text x="38.40" y="401.60" font-size="11.3" text-anchor="end" fill="#000" >1</text><text x="38.40" y="461.80" font-size="11.3" text-anchor="end" fill="#000" >0.5</text><text x="46.50" y="489.40" font-size="11.5" text-anchor="middle" fill="#000" >0</text><text x="152.20" y="489.40" font-size="11.5" text-anchor="middle" fill="#000" >5</text><text x="258.80" y="489.40" font-size="11.5" text-anchor="middle" fill="#000" >10</text><text x="365.60" y="489.40" font-size="11.5" text-anchor="middle" fill="#000" >15</text><text x="372.6" y="503.1" font-size="13" text-anchor="end">p<tspan font-size="8.2" dy="4.6">T</tspan><tspan dy="-4.6"> [GeV]</tspan></text><text transform="translate(17.5,396.9) rotate(-90)" x="0" y="0" font-size="9.3" text-anchor="middle">Ratio to ALICE</text><text transform="translate(380.9,127) rotate(-90) scale(0.915,1)" x="0" y="0" font-size="10.2" fill="#8c8c8c">Rivet 4.1.0, ≥ 200k events</text><text transform="translate(380.9,313.5) rotate(-90) scale(0.919,1)" x="0" y="0" font-size="10.2" fill="#8c8c8c">mcplots.cern.ch [arXiv:2401.10621]</text><text transform="translate(16.3,90.9) rotate(-90)"><tspan x="-1.00" y="0.70" font-size="13.5">2</tspan><tspan x="9.10" y="0.70" font-size="13.5">K</tspan><tspan x="17.50" y="-4.20" font-size="8.5">0</tspan><tspan x="18.40" y="5.90" font-size="9">S</tspan><tspan x="26.80" y="0.70" font-size="13.5">/</tspan><tspan x="33.50" y="0.70" font-size="13.5">(</tspan><tspan x="38.20" y="0.70" font-size="13.5">π</tspan><tspan x="43.10" y="-4.40" font-size="8.5">+</tspan><tspan x="51.60" y="0.70" font-size="13.5">+</tspan><tspan x="60.10" y="0.70" font-size="13.5">π</tspan><tspan x="69.20" y="0.70" font-size="13.5">)</tspan></text></g>
</svg></body></html>
